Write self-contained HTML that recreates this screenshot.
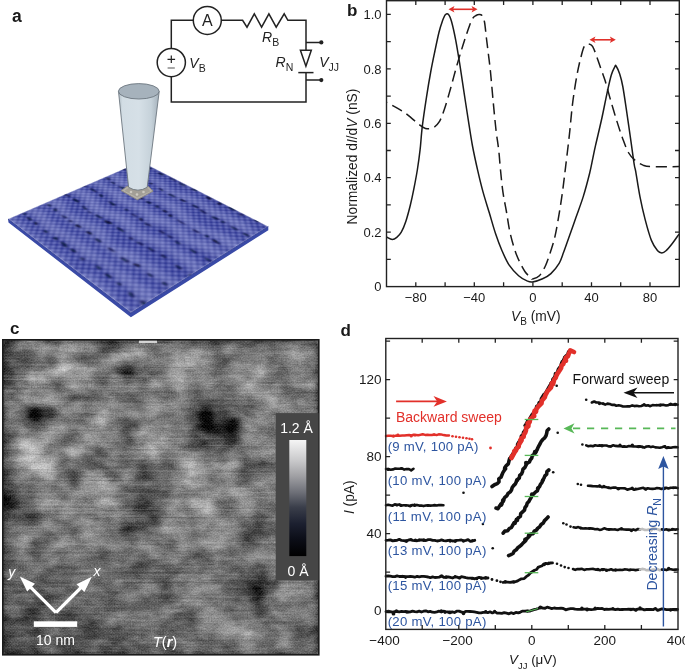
<!DOCTYPE html>
<html><head><meta charset="utf-8"><style>
html,body{margin:0;padding:0;background:#fff;}
#wrap{position:relative;width:685px;height:669px;overflow:hidden;background:#fff;font-family:"Liberation Sans",sans-serif;filter:blur(0.35px);}
svg text{font-family:"Liberation Sans",sans-serif;}
</style></head><body><div id="wrap">
<div style="position:absolute;left:0;top:0;width:200px;height:200px;transform-origin:0 0;transform:matrix3d(0.409881,0.133687,0,-0.00084465,-0.671122,0.119900,0,-0.00076530,0,0,1,0,141.0000,161.5000,0,1);"><svg width="200" height="200" viewBox="0 0 200 200"><defs><pattern id="lat" width="6.2" height="6.2" patternUnits="userSpaceOnUse" patternTransform="rotate(45)"><rect width="6.2" height="6.2" fill="#283090"/><circle cx="3.1" cy="3.1" r="2.23" fill="#7f87cf" opacity="0.85"/></pattern><filter id="bl1" x="-20%" y="-20%" width="140%" height="140%"><feTurbulence type="fractalNoise" baseFrequency="0.03" numOctaves="2" seed="3" result="t"/><feDisplacementMap in="SourceGraphic" in2="t" scale="22" xChannelSelector="R" yChannelSelector="G" result="d"/><feGaussianBlur in="d" stdDeviation="4"/></filter><filter id="bl2" x="-20%" y="-20%" width="140%" height="140%"><feTurbulence type="fractalNoise" baseFrequency="0.03" numOctaves="2" seed="3" result="t"/><feDisplacementMap in="SourceGraphic" in2="t" scale="7" xChannelSelector="R" yChannelSelector="G" result="d"/><feGaussianBlur in="d" stdDeviation="0.8"/></filter><filter id="bl0"><feGaussianBlur stdDeviation="0.8"/></filter></defs><rect width="200" height="200" fill="url(#lat)" filter="url(#bl0)"/><g filter="url(#bl1)"><rect x="-10" y="-16.6" width="220" height="13.5" fill="#c0c6f0" opacity="0.32"/><rect x="-10" y="-32.8" width="220" height="6" fill="#101650" opacity="0.1"/><rect x="-10" y="14.2" width="220" height="13.5" fill="#c0c6f0" opacity="0.32"/><rect x="-10" y="-2.6" width="220" height="6" fill="#101650" opacity="0.1"/><rect x="-10" y="45.8" width="220" height="13.5" fill="#c0c6f0" opacity="0.32"/><rect x="-10" y="25.3" width="220" height="6" fill="#101650" opacity="0.1"/><rect x="-10" y="72.1" width="220" height="13.5" fill="#c0c6f0" opacity="0.32"/><rect x="-10" y="58.3" width="220" height="6" fill="#101650" opacity="0.1"/><rect x="-10" y="103.6" width="220" height="13.5" fill="#c0c6f0" opacity="0.32"/><rect x="-10" y="85.9" width="220" height="6" fill="#101650" opacity="0.1"/><rect x="-10" y="138.0" width="220" height="13.5" fill="#c0c6f0" opacity="0.32"/><rect x="-10" y="116.9" width="220" height="6" fill="#101650" opacity="0.1"/><rect x="-10" y="167.0" width="220" height="13.5" fill="#c0c6f0" opacity="0.32"/><rect x="-10" y="146.9" width="220" height="6" fill="#101650" opacity="0.1"/><rect x="-10" y="195.8" width="220" height="13.5" fill="#c0c6f0" opacity="0.32"/><rect x="-10" y="175.6" width="220" height="6" fill="#101650" opacity="0.1"/><rect x="-10" y="225.8" width="220" height="13.5" fill="#c0c6f0" opacity="0.32"/><rect x="-10" y="208.5" width="220" height="6" fill="#101650" opacity="0.1"/></g><g filter="url(#bl2)"><ellipse cx="7.1" cy="1.2" rx="4.8" ry="1.7" fill="#070a36" opacity="0.84"/><ellipse cx="20.9" cy="2.8" rx="2.6" ry="1.5" fill="#070a36" opacity="0.89"/><ellipse cx="41.1" cy="2.9" rx="5.0" ry="1.5" fill="#070a36" opacity="0.92"/><ellipse cx="59.8" cy="2.9" rx="5.8" ry="1.3" fill="#070a36" opacity="0.65"/><ellipse cx="76.8" cy="2.0" rx="5.9" ry="1.6" fill="#070a36" opacity="0.72"/><ellipse cx="95.1" cy="1.8" rx="3.9" ry="1.6" fill="#070a36" opacity="0.83"/><ellipse cx="116.8" cy="3.0" rx="4.9" ry="1.8" fill="#070a36" opacity="1.00"/><ellipse cx="135.2" cy="2.8" rx="3.1" ry="1.9" fill="#070a36" opacity="0.96"/><ellipse cx="152.5" cy="1.5" rx="5.0" ry="1.8" fill="#070a36" opacity="0.83"/><ellipse cx="166.4" cy="2.8" rx="2.7" ry="1.9" fill="#070a36" opacity="0.64"/><ellipse cx="184.8" cy="1.4" rx="3.9" ry="1.4" fill="#070a36" opacity="0.91"/><ellipse cx="1.1" cy="30.6" rx="2.7" ry="1.4" fill="#070a36" opacity="0.95"/><ellipse cx="21.8" cy="31.2" rx="4.3" ry="1.4" fill="#070a36" opacity="0.63"/><ellipse cx="38.3" cy="29.6" rx="2.6" ry="1.5" fill="#070a36" opacity="0.84"/><ellipse cx="48.3" cy="30.9" rx="2.6" ry="1.4" fill="#070a36" opacity="0.98"/><ellipse cx="67.6" cy="30.1" rx="3.8" ry="1.6" fill="#070a36" opacity="0.86"/><ellipse cx="85.4" cy="30.4" rx="4.5" ry="1.9" fill="#070a36" opacity="0.80"/><ellipse cx="102.6" cy="29.7" rx="5.0" ry="1.4" fill="#070a36" opacity="0.99"/><ellipse cx="120.8" cy="29.2" rx="4.4" ry="1.5" fill="#070a36" opacity="0.83"/><ellipse cx="133.1" cy="30.4" rx="4.7" ry="1.2" fill="#070a36" opacity="0.85"/><ellipse cx="150.8" cy="29.9" rx="4.9" ry="1.7" fill="#070a36" opacity="0.90"/><ellipse cx="161.6" cy="30.5" rx="2.7" ry="1.9" fill="#070a36" opacity="0.70"/><ellipse cx="176.9" cy="29.8" rx="4.6" ry="1.5" fill="#070a36" opacity="0.73"/><ellipse cx="193.1" cy="29.8" rx="4.6" ry="1.5" fill="#070a36" opacity="0.91"/><ellipse cx="5.6" cy="61.7" rx="3.6" ry="1.8" fill="#070a36" opacity="0.70"/><ellipse cx="18.3" cy="62.7" rx="4.0" ry="1.3" fill="#070a36" opacity="0.73"/><ellipse cx="34.4" cy="62.2" rx="5.4" ry="1.8" fill="#070a36" opacity="0.67"/><ellipse cx="51.3" cy="63.0" rx="4.8" ry="1.5" fill="#070a36" opacity="0.69"/><ellipse cx="64.8" cy="61.7" rx="4.4" ry="1.8" fill="#070a36" opacity="0.94"/><ellipse cx="77.6" cy="62.9" rx="3.5" ry="1.6" fill="#070a36" opacity="0.92"/><ellipse cx="90.9" cy="61.9" rx="3.0" ry="1.8" fill="#070a36" opacity="0.71"/><ellipse cx="104.6" cy="62.1" rx="4.0" ry="1.5" fill="#070a36" opacity="0.97"/><ellipse cx="115.8" cy="63.2" rx="2.5" ry="1.8" fill="#070a36" opacity="0.99"/><ellipse cx="131.9" cy="63.1" rx="5.8" ry="1.4" fill="#070a36" opacity="0.90"/><ellipse cx="154.7" cy="62.3" rx="4.8" ry="1.4" fill="#070a36" opacity="0.74"/><ellipse cx="167.8" cy="62.5" rx="2.7" ry="1.4" fill="#070a36" opacity="0.92"/><ellipse cx="179.7" cy="62.7" rx="5.7" ry="1.8" fill="#070a36" opacity="0.96"/><ellipse cx="202.8" cy="61.3" rx="4.5" ry="1.7" fill="#070a36" opacity="0.67"/><ellipse cx="-0.3" cy="93.5" rx="3.9" ry="1.6" fill="#070a36" opacity="0.74"/><ellipse cx="14.9" cy="92.6" rx="5.5" ry="1.7" fill="#070a36" opacity="0.74"/><ellipse cx="30.0" cy="93.3" rx="4.4" ry="1.3" fill="#070a36" opacity="0.92"/><ellipse cx="52.8" cy="93.3" rx="5.3" ry="1.2" fill="#070a36" opacity="0.85"/><ellipse cx="73.3" cy="92.2" rx="2.7" ry="1.4" fill="#070a36" opacity="0.81"/><ellipse cx="87.8" cy="93.2" rx="4.2" ry="1.2" fill="#070a36" opacity="0.62"/><ellipse cx="99.3" cy="91.8" rx="2.9" ry="1.9" fill="#070a36" opacity="0.94"/><ellipse cx="110.4" cy="92.3" rx="4.3" ry="1.4" fill="#070a36" opacity="0.74"/><ellipse cx="129.3" cy="92.4" rx="4.6" ry="1.3" fill="#070a36" opacity="0.73"/><ellipse cx="142.7" cy="93.1" rx="4.4" ry="1.5" fill="#070a36" opacity="0.63"/><ellipse cx="155.9" cy="92.9" rx="3.8" ry="1.7" fill="#070a36" opacity="0.75"/><ellipse cx="176.2" cy="92.5" rx="4.7" ry="1.5" fill="#070a36" opacity="0.80"/><ellipse cx="195.6" cy="93.0" rx="4.0" ry="1.5" fill="#070a36" opacity="0.70"/><ellipse cx="-13.9" cy="122.6" rx="4.0" ry="1.8" fill="#070a36" opacity="0.97"/><ellipse cx="2.9" cy="123.4" rx="5.6" ry="1.4" fill="#070a36" opacity="0.79"/><ellipse cx="18.2" cy="123.1" rx="5.3" ry="1.8" fill="#070a36" opacity="0.92"/><ellipse cx="39.0" cy="122.9" rx="5.1" ry="1.3" fill="#070a36" opacity="0.84"/><ellipse cx="50.1" cy="123.3" rx="3.0" ry="1.2" fill="#070a36" opacity="0.64"/><ellipse cx="62.8" cy="122.1" rx="5.6" ry="1.2" fill="#070a36" opacity="0.94"/><ellipse cx="78.2" cy="123.1" rx="5.5" ry="1.8" fill="#070a36" opacity="0.98"/><ellipse cx="98.3" cy="121.9" rx="5.3" ry="1.7" fill="#070a36" opacity="0.80"/><ellipse cx="117.3" cy="123.3" rx="2.9" ry="1.9" fill="#070a36" opacity="0.62"/><ellipse cx="131.2" cy="123.4" rx="4.5" ry="1.4" fill="#070a36" opacity="0.67"/><ellipse cx="146.1" cy="123.3" rx="4.7" ry="1.5" fill="#070a36" opacity="0.75"/><ellipse cx="161.8" cy="122.6" rx="3.7" ry="1.3" fill="#070a36" opacity="0.80"/><ellipse cx="183.2" cy="123.3" rx="3.9" ry="1.3" fill="#070a36" opacity="0.88"/><ellipse cx="203.3" cy="122.8" rx="4.9" ry="1.5" fill="#070a36" opacity="0.86"/><ellipse cx="-12.0" cy="151.4" rx="5.1" ry="1.6" fill="#070a36" opacity="0.78"/><ellipse cx="7.2" cy="150.1" rx="3.2" ry="1.3" fill="#070a36" opacity="0.83"/><ellipse cx="20.1" cy="151.0" rx="3.3" ry="1.9" fill="#070a36" opacity="0.72"/><ellipse cx="38.1" cy="151.3" rx="3.9" ry="1.6" fill="#070a36" opacity="0.71"/><ellipse cx="50.0" cy="150.6" rx="2.6" ry="1.5" fill="#070a36" opacity="0.67"/><ellipse cx="63.2" cy="151.1" rx="3.6" ry="1.3" fill="#070a36" opacity="1.00"/><ellipse cx="79.7" cy="150.5" rx="4.6" ry="1.8" fill="#070a36" opacity="0.93"/><ellipse cx="97.6" cy="151.0" rx="4.2" ry="1.8" fill="#070a36" opacity="0.76"/><ellipse cx="118.7" cy="150.5" rx="5.9" ry="1.4" fill="#070a36" opacity="0.69"/><ellipse cx="140.4" cy="151.5" rx="4.9" ry="1.8" fill="#070a36" opacity="0.70"/><ellipse cx="153.7" cy="150.0" rx="3.4" ry="1.7" fill="#070a36" opacity="0.94"/><ellipse cx="173.4" cy="151.3" rx="3.4" ry="1.4" fill="#070a36" opacity="0.77"/><ellipse cx="190.6" cy="149.8" rx="2.8" ry="1.8" fill="#070a36" opacity="0.72"/><ellipse cx="2.8" cy="182.0" rx="2.5" ry="1.5" fill="#070a36" opacity="0.79"/><ellipse cx="15.2" cy="183.2" rx="4.5" ry="1.5" fill="#070a36" opacity="0.82"/><ellipse cx="27.5" cy="182.7" rx="3.5" ry="1.3" fill="#070a36" opacity="0.95"/><ellipse cx="46.8" cy="183.2" rx="2.8" ry="1.5" fill="#070a36" opacity="0.91"/><ellipse cx="64.5" cy="182.7" rx="3.5" ry="1.7" fill="#070a36" opacity="0.92"/><ellipse cx="79.1" cy="183.2" rx="5.1" ry="1.7" fill="#070a36" opacity="0.81"/><ellipse cx="92.7" cy="182.0" rx="4.2" ry="1.7" fill="#070a36" opacity="0.87"/><ellipse cx="109.3" cy="182.6" rx="3.1" ry="1.6" fill="#070a36" opacity="0.67"/><ellipse cx="130.0" cy="181.6" rx="4.8" ry="1.9" fill="#070a36" opacity="0.66"/><ellipse cx="146.5" cy="182.5" rx="5.0" ry="1.6" fill="#070a36" opacity="0.86"/><ellipse cx="163.1" cy="181.7" rx="3.6" ry="1.2" fill="#070a36" opacity="0.89"/><ellipse cx="182.4" cy="182.8" rx="4.4" ry="1.5" fill="#070a36" opacity="0.71"/><ellipse cx="199.6" cy="181.4" rx="5.6" ry="1.6" fill="#070a36" opacity="0.70"/></g></svg></div>
<svg width="685" height="669" viewBox="0 0 685 669" style="position:absolute;left:0;top:0" font-family="Liberation Sans, sans-serif" fill="#1a1a1a">
<path d="M8,219 L130.9,313 L268.3,226.5 L268.3,230.3 L130.9,317.3 L8.5,222.5Z" fill="#3a4aa6"/>
<path d="M8,219 L130.9,313 L268.3,226.5" fill="none" stroke="#2c3890" stroke-width="0.8"/>
<defs><linearGradient id="tipg" x1="0" x2="1" y1="0" y2="0"><stop offset="0" stop-color="#b4c0c8"/><stop offset="0.1" stop-color="#d2dde4"/><stop offset="0.5" stop-color="#d6e0e7"/><stop offset="0.8" stop-color="#c6d2da"/><stop offset="1" stop-color="#a4b0ba"/></linearGradient></defs>
<path d="M121.2,190.6 L127,186.4 L148.5,186.6 L153,191.2 L137.3,199.8 Z" fill="#b4b0a8" stroke="#8c8880" stroke-width="0.9"/>
<path d="M124.5,190.8 L128.5,188 L147.5,188 L150.3,191.2 L137.3,197.6 Z" fill="#a29e96"/>
<circle cx="131" cy="192" r="1.3" fill="#ccc8c0"/><circle cx="137" cy="194.5" r="1.3" fill="#d0ccc4"/><circle cx="143.5" cy="192" r="1.3" fill="#ccc8c0"/>
<path d="M118.5,91.5 L128.6,187.3 Q137.9,193 147.2,187.3 L159.2,91.5 Z" fill="url(#tipg)" stroke="#6d7780" stroke-width="0.9"/>
<ellipse cx="138.8" cy="91.3" rx="20.4" ry="7.7" fill="#a6b2bc" stroke="#6d7780" stroke-width="0.9"/>
<text x="12" y="22.2" font-size="17.5" font-weight="bold">a</text>
<path d="M171.3,48.5V20.3H193.3 M221.3,20.3H242.6 L247,27.2 L254.3,13.8 L261.6,27.2 L268.9,13.8 L276.2,27.2 L284.2,13.8 L287.9,20.3 H306 V50.3 M306,72.6 V102 H171.3 V76.7" stroke="#222" stroke-width="1.5" fill="none" stroke-linejoin="miter"/>
<circle cx="207.3" cy="20.4" r="14" stroke="#222" stroke-width="1.5" fill="none"/>
<text x="207.3" y="26.2" font-size="16" text-anchor="middle" fill="#222">A</text>
<circle cx="171.3" cy="62.6" r="14.1" stroke="#222" stroke-width="1.5" fill="none"/>
<path d="M167.5,59.3h7.6M171.3,55.5v7.6" stroke="#222" stroke-width="1.2"/>
<path d="M167.6,68h7.2" stroke="#6e6e6e" stroke-width="1.2"/>
<text x="189.3" y="68.2" font-size="14" fill="#222"><tspan font-style="italic">V</tspan><tspan font-size="10.5" dy="4">B</tspan></text>
<text x="262" y="41.6" font-size="14" fill="#222"><tspan font-style="italic">R</tspan><tspan font-size="10.5" dy="4">B</tspan></text>
<text x="275.6" y="67.4" font-size="14" fill="#222"><tspan font-style="italic">R</tspan><tspan font-size="10.5" dy="4">N</tspan></text>
<text x="319.2" y="66.9" font-size="14" fill="#222"><tspan font-style="italic">V</tspan><tspan font-size="10.5" dy="4.5">JJ</tspan></text>
<path d="M300.4,50.3H311.3L305.9,66.2Z" stroke="#222" stroke-width="1.5" fill="none" stroke-linejoin="miter"/>
<path d="M298.3,72.6H313.5" stroke="#222" stroke-width="1.5"/>
<path d="M306,42.4H320M306,80.1H320" stroke="#222" stroke-width="1.5"/>
<circle cx="321.3" cy="42.4" r="2.1" fill="#222"/><circle cx="321.3" cy="80.1" r="2.1" fill="#222"/>
<path d="M386.50,237.00 C387.47,237.40 390.58,239.35 392.30,239.40 C394.02,239.45 395.30,238.50 396.80,237.30 C398.30,236.10 399.80,234.83 401.30,232.20 C402.80,229.57 404.30,225.98 405.80,221.50 C407.30,217.02 408.97,210.68 410.30,205.30 C411.63,199.92 412.62,195.17 413.80,189.20 C414.98,183.23 416.35,176.08 417.40,169.50 C418.45,162.92 419.28,156.88 420.10,149.70 C420.92,142.52 421.23,135.17 422.30,126.40 C423.37,117.63 425.10,106.17 426.50,97.10 C427.90,88.03 429.30,79.68 430.70,72.00 C432.10,64.32 433.52,57.63 434.90,51.00 C436.28,44.37 437.78,37.08 439.00,32.20 C440.22,27.32 441.15,24.60 442.20,21.70 C443.25,18.80 444.25,16.02 445.30,14.80 C446.35,13.58 447.45,13.25 448.50,14.40 C449.55,15.55 450.38,17.33 451.60,21.70 C452.82,26.07 454.40,33.27 455.80,40.60 C457.20,47.93 458.62,56.98 460.00,65.70 C461.38,74.42 462.72,83.83 464.10,92.90 C465.48,101.97 466.90,111.25 468.30,120.10 C469.70,128.95 470.92,137.53 472.50,146.00 C474.08,154.47 476.05,163.25 477.80,170.90 C479.55,178.55 481.08,184.92 483.00,191.90 C484.92,198.88 487.20,205.82 489.30,212.80 C491.40,219.78 493.50,227.52 495.60,233.80 C497.70,240.08 499.63,245.27 501.90,250.50 C504.17,255.73 506.42,261.00 509.20,265.20 C511.98,269.40 515.63,273.08 518.60,275.70 C521.57,278.32 524.70,279.85 527.00,280.90 C529.30,281.95 529.80,282.35 532.40,282.00 C535.00,281.65 539.52,280.20 542.60,278.80 C545.68,277.40 548.12,276.22 550.90,273.60 C553.68,270.98 557.20,266.60 559.30,263.10 C561.40,259.60 561.93,256.78 563.50,252.60 C565.07,248.42 566.60,243.93 568.70,238.00 C570.80,232.07 573.65,223.98 576.10,217.00 C578.55,210.02 581.13,203.43 583.40,196.10 C585.67,188.77 588.13,179.28 589.70,173.00 C591.27,166.72 591.82,163.03 592.80,158.40 C593.78,153.77 594.08,151.93 595.60,145.20 C597.12,138.47 599.98,126.73 601.90,118.00 C603.82,109.27 605.53,99.97 607.10,92.80 C608.67,85.63 610.00,79.37 611.30,75.00 C612.60,70.63 614.10,68.10 614.90,66.60 C615.70,65.10 615.30,64.77 616.10,66.00 C616.90,67.23 618.58,70.58 619.70,74.00 C620.82,77.42 621.58,79.87 622.80,86.50 C624.02,93.13 625.60,104.37 627.00,113.80 C628.40,123.23 629.98,134.57 631.20,143.10 C632.42,151.63 633.55,160.28 634.30,165.00 C635.05,169.72 634.77,166.17 635.70,171.40 C636.63,176.63 638.33,188.40 639.90,196.40 C641.47,204.40 643.18,212.07 645.10,219.40 C647.02,226.73 649.32,235.17 651.40,240.40 C653.48,245.63 655.87,248.72 657.60,250.80 C659.33,252.88 660.40,252.90 661.80,252.90 C663.20,252.90 664.25,252.37 666.00,250.80 C667.75,249.23 670.13,246.28 672.30,243.50 C674.47,240.72 677.88,235.67 679.00,234.10" fill="none" stroke="#1a1a1a" stroke-width="1.5" stroke-linejoin="round"/>
<path d="M386.50,102.30 C387.43,102.80 389.55,103.88 392.10,105.30 C394.65,106.72 399.48,109.42 401.80,110.80 C404.12,112.18 403.88,111.97 406.00,113.60 C408.12,115.23 412.28,118.77 414.50,120.60 C416.72,122.43 417.47,123.28 419.30,124.60 C421.13,125.92 423.25,127.93 425.50,128.50 C427.75,129.07 430.55,129.05 432.80,128.00 C435.05,126.95 437.08,125.27 439.00,122.20 C440.92,119.13 442.38,115.18 444.30,109.60 C446.22,104.02 448.42,96.02 450.50,88.70 C452.58,81.38 454.70,73.02 456.80,65.70 C458.90,58.38 461.00,51.43 463.10,44.80 C465.20,38.17 467.75,30.37 469.40,25.90 C471.05,21.43 471.90,19.73 473.00,18.00 C474.10,16.27 475.00,16.08 476.00,15.50 C477.00,14.92 478.00,14.50 479.00,14.50 C480.00,14.50 481.08,14.25 482.00,15.50 C482.92,16.75 483.77,18.25 484.50,22.00 C485.23,25.75 485.73,32.50 486.40,38.00 C487.07,43.50 487.82,49.33 488.50,55.00 C489.18,60.67 489.70,64.03 490.50,72.00 C491.30,79.97 492.38,93.13 493.30,102.80 C494.22,112.47 495.10,122.13 496.00,130.00 C496.90,137.87 497.95,143.33 498.70,150.00 C499.45,156.67 499.80,163.02 500.50,170.00 C501.20,176.98 501.90,184.90 502.90,191.90 C503.90,198.90 505.27,205.02 506.50,212.00 C507.73,218.98 508.63,226.68 510.30,233.80 C511.97,240.92 514.07,248.42 516.50,254.70 C518.93,260.98 522.45,267.67 524.90,271.50 C527.35,275.33 529.98,276.45 531.20,277.70 C532.42,278.95 530.83,279.33 532.20,279.00 C533.57,278.67 537.15,278.00 539.40,275.70 C541.65,273.40 543.78,269.40 545.70,265.20 C547.62,261.00 549.33,255.38 550.90,250.50 C552.47,245.62 553.70,242.18 555.10,235.90 C556.50,229.62 558.07,220.13 559.30,212.80 C560.53,205.47 561.45,199.57 562.50,191.90 C563.55,184.23 564.45,176.33 565.60,166.80 C566.75,157.27 568.23,145.28 569.40,134.70 C570.57,124.12 571.37,113.07 572.60,103.30 C573.83,93.53 575.42,83.78 576.80,76.10 C578.18,68.42 579.52,62.37 580.90,57.20 C582.28,52.03 583.35,47.12 585.10,45.10 C586.85,43.08 589.82,44.13 591.40,45.10 C592.98,46.07 593.20,47.48 594.60,50.90 C596.00,54.32 598.07,60.70 599.80,65.60 C601.53,70.50 603.25,74.72 605.00,80.30 C606.75,85.88 608.38,92.48 610.30,99.10 C612.22,105.72 614.42,113.37 616.50,120.00 C618.58,126.63 620.82,133.48 622.80,138.90 C624.78,144.32 626.43,149.00 628.40,152.50 C630.37,156.00 632.17,157.80 634.60,159.90 C637.03,162.00 640.20,163.98 643.00,165.10 C645.80,166.22 645.40,166.35 651.40,166.60 C657.40,166.85 674.40,166.60 679.00,166.60" fill="none" stroke="#1a1a1a" stroke-width="1.5" stroke-dasharray="11 5.6" stroke-dashoffset="10"/>
<rect x="386.5" y="0.7" width="292.8" height="285.9" fill="none" stroke="#222" stroke-width="1.4"/>
<path d="M415.8,286.6v-4.3M415.8,0.7v4.3M445.1,286.6v-4.3M445.1,0.7v4.3M474.3,286.6v-4.3M474.3,0.7v4.3M503.6,286.6v-4.3M503.6,0.7v4.3M532.9,286.6v-4.3M532.9,0.7v4.3M562.2,286.6v-4.3M562.2,0.7v4.3M591.5,286.6v-4.3M591.5,0.7v4.3M620.7,286.6v-4.3M620.7,0.7v4.3M650.0,286.6v-4.3M650.0,0.7v4.3M386.5,259.4h4.3M679.3,259.4h-4.3M386.5,232.2h4.3M679.3,232.2h-4.3M386.5,204.9h4.3M679.3,204.9h-4.3M386.5,177.7h4.3M679.3,177.7h-4.3M386.5,150.5h4.3M679.3,150.5h-4.3M386.5,123.3h4.3M679.3,123.3h-4.3M386.5,96.1h4.3M679.3,96.1h-4.3M386.5,68.8h4.3M679.3,68.8h-4.3M386.5,41.6h4.3M679.3,41.6h-4.3M386.5,14.4h4.3M679.3,14.4h-4.3" stroke="#222" stroke-width="1.3" fill="none"/>
<text x="415.8" y="302.3" font-size="13" text-anchor="middle">−80</text>
<text x="474.3" y="302.3" font-size="13" text-anchor="middle">−40</text>
<text x="532.9" y="302.3" font-size="13" text-anchor="middle">0</text>
<text x="591.5" y="302.3" font-size="13" text-anchor="middle">40</text>
<text x="650.0" y="302.3" font-size="13" text-anchor="middle">80</text>
<text x="381.5" y="291.3" font-size="13" text-anchor="end">0</text>
<text x="381.5" y="236.9" font-size="13" text-anchor="end">0.2</text>
<text x="381.5" y="182.4" font-size="13" text-anchor="end">0.4</text>
<text x="381.5" y="128.0" font-size="13" text-anchor="end">0.6</text>
<text x="381.5" y="73.5" font-size="13" text-anchor="end">0.8</text>
<text x="381.5" y="19.1" font-size="13" text-anchor="end">1.0</text>
<text transform="translate(356.6,156.5) rotate(-90)" font-size="13.8" text-anchor="middle">Normalized d<tspan font-style="italic">I</tspan>/d<tspan font-style="italic">V</tspan> (nS)</text>
<text x="511" y="321.2" font-size="13.8"><tspan font-style="italic">V</tspan><tspan font-size="10" dy="4">B</tspan><tspan dy="-4"> (mV)</tspan></text>
<path d="M452.5,9.3H473.5" stroke="#e0302a" stroke-width="1.6"/><path d="M448.5,9.3l6,-3.3l-1.5,3.3l1.5,3.3z M477.5,9.3l-6,-3.3l1.5,3.3l-1.5,3.3z" fill="#e0302a"/>
<path d="M593.5,39.8H611.8" stroke="#e0302a" stroke-width="1.6"/><path d="M589.5,39.8l6,-3.3l-1.5,3.3l1.5,3.3z M615.8,39.8l-6,-3.3l1.5,3.3l-1.5,3.3z" fill="#e0302a"/>
<text x="347" y="16.4" font-size="17" font-weight="bold">b</text>
<text x="10" y="334.4" font-size="17" font-weight="bold">c</text>
<defs><clipPath id="stmclip"><rect x="3" y="340" width="315.5" height="314.5"/></clipPath><filter id="stmf" x="3" y="340" width="315.5" height="314.5" filterUnits="userSpaceOnUse" color-interpolation-filters="sRGB"><feGaussianBlur in="SourceGraphic" stdDeviation="4.2" result="base"/><feTurbulence type="fractalNoise" baseFrequency="0.05 0.08" numOctaves="3" seed="7" result="mid"/><feColorMatrix in="mid" type="matrix" values="1 0 0 0 0  1 0 0 0 0  1 0 0 0 0  0 0 0 0 1" result="midg"/><feTurbulence type="fractalNoise" baseFrequency="0.02 0.5" numOctaves="2" seed="5" result="fine"/><feColorMatrix in="fine" type="matrix" values="1 0 0 0 0  1 0 0 0 0  1 0 0 0 0  0 0 0 0 1" result="fineg"/><feComposite in="base" in2="midg" operator="arithmetic" k1="0" k2="1" k3="0.42" k4="-0.21" result="b2"/><feComposite in="b2" in2="fineg" operator="arithmetic" k1="0" k2="1" k3="0.16" k4="-0.08" result="b3"/><feTurbulence type="fractalNoise" baseFrequency="0.7" numOctaves="1" seed="11" result="grain"/><feColorMatrix in="grain" type="matrix" values="1 0 0 0 0  1 0 0 0 0  1 0 0 0 0  0 0 0 0 1" result="graing"/><feComposite in="b3" in2="graing" operator="arithmetic" k1="0" k2="1" k3="0.26" k4="-0.13"/></filter><pattern id="hatch" width="3" height="3" patternUnits="userSpaceOnUse"><path d="M0,3L3,0M0,0L3,3" stroke="#fff" stroke-width="0.6" opacity="0.5"/></pattern><linearGradient id="cbar" x1="0" x2="0" y1="0" y2="1"><stop offset="0" stop-color="#f5f5f5"/><stop offset="0.18" stop-color="#c8c8ca"/><stop offset="0.31" stop-color="#a0a0a4"/><stop offset="0.45" stop-color="#6e7078"/><stop offset="0.58" stop-color="#3a3e4a"/><stop offset="0.72" stop-color="#1c2030"/><stop offset="0.85" stop-color="#0c0e18"/><stop offset="1" stop-color="#000"/></linearGradient></defs>
<g clip-path="url(#stmclip)">
<g filter="url(#stmf)"><rect x="2.5" y="339.5" width="14.1" height="14.1" fill="rgb(69,69,69)"/><rect x="15.6" y="339.5" width="14.1" height="14.1" fill="rgb(141,141,141)"/><rect x="28.8" y="339.5" width="14.1" height="14.1" fill="rgb(161,161,161)"/><rect x="41.9" y="339.5" width="14.1" height="14.1" fill="rgb(141,141,141)"/><rect x="55.0" y="339.5" width="14.1" height="14.1" fill="rgb(151,151,151)"/><rect x="68.1" y="339.5" width="14.1" height="14.1" fill="rgb(161,161,161)"/><rect x="81.2" y="339.5" width="14.1" height="14.1" fill="rgb(141,141,141)"/><rect x="94.4" y="339.5" width="14.1" height="14.1" fill="rgb(79,79,79)"/><rect x="107.5" y="339.5" width="14.1" height="14.1" fill="rgb(69,69,69)"/><rect x="120.6" y="339.5" width="14.1" height="14.1" fill="rgb(100,100,100)"/><rect x="133.8" y="339.5" width="14.1" height="14.1" fill="rgb(161,161,161)"/><rect x="146.9" y="339.5" width="14.1" height="14.1" fill="rgb(120,120,120)"/><rect x="160.0" y="339.5" width="14.1" height="14.1" fill="rgb(100,100,100)"/><rect x="173.1" y="339.5" width="14.1" height="14.1" fill="rgb(120,120,120)"/><rect x="186.2" y="339.5" width="14.1" height="14.1" fill="rgb(141,141,141)"/><rect x="199.4" y="339.5" width="14.1" height="14.1" fill="rgb(130,130,130)"/><rect x="212.5" y="339.5" width="14.1" height="14.1" fill="rgb(100,100,100)"/><rect x="225.6" y="339.5" width="14.1" height="14.1" fill="rgb(110,110,110)"/><rect x="238.8" y="339.5" width="14.1" height="14.1" fill="rgb(100,100,100)"/><rect x="251.9" y="339.5" width="14.1" height="14.1" fill="rgb(120,120,120)"/><rect x="265.0" y="339.5" width="14.1" height="14.1" fill="rgb(120,120,120)"/><rect x="278.1" y="339.5" width="14.1" height="14.1" fill="rgb(110,110,110)"/><rect x="291.2" y="339.5" width="14.1" height="14.1" fill="rgb(130,130,130)"/><rect x="304.4" y="339.5" width="14.1" height="14.1" fill="rgb(120,120,120)"/><rect x="2.5" y="352.6" width="14.1" height="14.1" fill="rgb(59,59,59)"/><rect x="15.6" y="352.6" width="14.1" height="14.1" fill="rgb(79,79,79)"/><rect x="28.8" y="352.6" width="14.1" height="14.1" fill="rgb(100,100,100)"/><rect x="41.9" y="352.6" width="14.1" height="14.1" fill="rgb(69,69,69)"/><rect x="55.0" y="352.6" width="14.1" height="14.1" fill="rgb(130,130,130)"/><rect x="68.1" y="352.6" width="14.1" height="14.1" fill="rgb(100,100,100)"/><rect x="81.2" y="352.6" width="14.1" height="14.1" fill="rgb(120,120,120)"/><rect x="94.4" y="352.6" width="14.1" height="14.1" fill="rgb(120,120,120)"/><rect x="107.5" y="352.6" width="14.1" height="14.1" fill="rgb(151,151,151)"/><rect x="120.6" y="352.6" width="14.1" height="14.1" fill="rgb(141,141,141)"/><rect x="133.8" y="352.6" width="14.1" height="14.1" fill="rgb(120,120,120)"/><rect x="146.9" y="352.6" width="14.1" height="14.1" fill="rgb(141,141,141)"/><rect x="160.0" y="352.6" width="14.1" height="14.1" fill="rgb(110,110,110)"/><rect x="173.1" y="352.6" width="14.1" height="14.1" fill="rgb(171,171,171)"/><rect x="186.2" y="352.6" width="14.1" height="14.1" fill="rgb(161,161,161)"/><rect x="199.4" y="352.6" width="14.1" height="14.1" fill="rgb(141,141,141)"/><rect x="212.5" y="352.6" width="14.1" height="14.1" fill="rgb(79,79,79)"/><rect x="225.6" y="352.6" width="14.1" height="14.1" fill="rgb(120,120,120)"/><rect x="238.8" y="352.6" width="14.1" height="14.1" fill="rgb(130,130,130)"/><rect x="251.9" y="352.6" width="14.1" height="14.1" fill="rgb(110,110,110)"/><rect x="265.0" y="352.6" width="14.1" height="14.1" fill="rgb(100,100,100)"/><rect x="278.1" y="352.6" width="14.1" height="14.1" fill="rgb(120,120,120)"/><rect x="291.2" y="352.6" width="14.1" height="14.1" fill="rgb(141,141,141)"/><rect x="304.4" y="352.6" width="14.1" height="14.1" fill="rgb(130,130,130)"/><rect x="2.5" y="365.8" width="14.1" height="14.1" fill="rgb(79,79,79)"/><rect x="15.6" y="365.8" width="14.1" height="14.1" fill="rgb(100,100,100)"/><rect x="28.8" y="365.8" width="14.1" height="14.1" fill="rgb(141,141,141)"/><rect x="41.9" y="365.8" width="14.1" height="14.1" fill="rgb(171,171,171)"/><rect x="55.0" y="365.8" width="14.1" height="14.1" fill="rgb(182,182,182)"/><rect x="68.1" y="365.8" width="14.1" height="14.1" fill="rgb(161,161,161)"/><rect x="81.2" y="365.8" width="14.1" height="14.1" fill="rgb(120,120,120)"/><rect x="94.4" y="365.8" width="14.1" height="14.1" fill="rgb(100,100,100)"/><rect x="107.5" y="365.8" width="14.1" height="14.1" fill="rgb(100,100,100)"/><rect x="120.6" y="365.8" width="14.1" height="14.1" fill="rgb(38,38,38)"/><rect x="133.8" y="365.8" width="14.1" height="14.1" fill="rgb(100,100,100)"/><rect x="146.9" y="365.8" width="14.1" height="14.1" fill="rgb(79,79,79)"/><rect x="160.0" y="365.8" width="14.1" height="14.1" fill="rgb(100,100,100)"/><rect x="173.1" y="365.8" width="14.1" height="14.1" fill="rgb(151,151,151)"/><rect x="186.2" y="365.8" width="14.1" height="14.1" fill="rgb(130,130,130)"/><rect x="199.4" y="365.8" width="14.1" height="14.1" fill="rgb(130,130,130)"/><rect x="212.5" y="365.8" width="14.1" height="14.1" fill="rgb(100,100,100)"/><rect x="225.6" y="365.8" width="14.1" height="14.1" fill="rgb(141,141,141)"/><rect x="238.8" y="365.8" width="14.1" height="14.1" fill="rgb(130,130,130)"/><rect x="251.9" y="365.8" width="14.1" height="14.1" fill="rgb(182,182,182)"/><rect x="265.0" y="365.8" width="14.1" height="14.1" fill="rgb(110,110,110)"/><rect x="278.1" y="365.8" width="14.1" height="14.1" fill="rgb(79,79,79)"/><rect x="291.2" y="365.8" width="14.1" height="14.1" fill="rgb(120,120,120)"/><rect x="304.4" y="365.8" width="14.1" height="14.1" fill="rgb(130,130,130)"/><rect x="2.5" y="378.9" width="14.1" height="14.1" fill="rgb(89,89,89)"/><rect x="15.6" y="378.9" width="14.1" height="14.1" fill="rgb(120,120,120)"/><rect x="28.8" y="378.9" width="14.1" height="14.1" fill="rgb(130,130,130)"/><rect x="41.9" y="378.9" width="14.1" height="14.1" fill="rgb(110,110,110)"/><rect x="55.0" y="378.9" width="14.1" height="14.1" fill="rgb(69,69,69)"/><rect x="68.1" y="378.9" width="14.1" height="14.1" fill="rgb(151,151,151)"/><rect x="81.2" y="378.9" width="14.1" height="14.1" fill="rgb(141,141,141)"/><rect x="94.4" y="378.9" width="14.1" height="14.1" fill="rgb(110,110,110)"/><rect x="107.5" y="378.9" width="14.1" height="14.1" fill="rgb(130,130,130)"/><rect x="120.6" y="378.9" width="14.1" height="14.1" fill="rgb(130,130,130)"/><rect x="133.8" y="378.9" width="14.1" height="14.1" fill="rgb(110,110,110)"/><rect x="146.9" y="378.9" width="14.1" height="14.1" fill="rgb(151,151,151)"/><rect x="160.0" y="378.9" width="14.1" height="14.1" fill="rgb(130,130,130)"/><rect x="173.1" y="378.9" width="14.1" height="14.1" fill="rgb(161,161,161)"/><rect x="186.2" y="378.9" width="14.1" height="14.1" fill="rgb(120,120,120)"/><rect x="199.4" y="378.9" width="14.1" height="14.1" fill="rgb(110,110,110)"/><rect x="212.5" y="378.9" width="14.1" height="14.1" fill="rgb(110,110,110)"/><rect x="225.6" y="378.9" width="14.1" height="14.1" fill="rgb(120,120,120)"/><rect x="238.8" y="378.9" width="14.1" height="14.1" fill="rgb(151,151,151)"/><rect x="251.9" y="378.9" width="14.1" height="14.1" fill="rgb(141,141,141)"/><rect x="265.0" y="378.9" width="14.1" height="14.1" fill="rgb(110,110,110)"/><rect x="278.1" y="378.9" width="14.1" height="14.1" fill="rgb(120,120,120)"/><rect x="291.2" y="378.9" width="14.1" height="14.1" fill="rgb(130,130,130)"/><rect x="304.4" y="378.9" width="14.1" height="14.1" fill="rgb(141,141,141)"/><rect x="2.5" y="392.0" width="14.1" height="14.1" fill="rgb(100,100,100)"/><rect x="15.6" y="392.0" width="14.1" height="14.1" fill="rgb(130,130,130)"/><rect x="28.8" y="392.0" width="14.1" height="14.1" fill="rgb(151,151,151)"/><rect x="41.9" y="392.0" width="14.1" height="14.1" fill="rgb(182,182,182)"/><rect x="55.0" y="392.0" width="14.1" height="14.1" fill="rgb(130,130,130)"/><rect x="68.1" y="392.0" width="14.1" height="14.1" fill="rgb(89,89,89)"/><rect x="81.2" y="392.0" width="14.1" height="14.1" fill="rgb(79,79,79)"/><rect x="94.4" y="392.0" width="14.1" height="14.1" fill="rgb(100,100,100)"/><rect x="107.5" y="392.0" width="14.1" height="14.1" fill="rgb(89,89,89)"/><rect x="120.6" y="392.0" width="14.1" height="14.1" fill="rgb(110,110,110)"/><rect x="133.8" y="392.0" width="14.1" height="14.1" fill="rgb(100,100,100)"/><rect x="146.9" y="392.0" width="14.1" height="14.1" fill="rgb(120,120,120)"/><rect x="160.0" y="392.0" width="14.1" height="14.1" fill="rgb(120,120,120)"/><rect x="173.1" y="392.0" width="14.1" height="14.1" fill="rgb(141,141,141)"/><rect x="186.2" y="392.0" width="14.1" height="14.1" fill="rgb(100,100,100)"/><rect x="199.4" y="392.0" width="14.1" height="14.1" fill="rgb(79,79,79)"/><rect x="212.5" y="392.0" width="14.1" height="14.1" fill="rgb(89,89,89)"/><rect x="225.6" y="392.0" width="14.1" height="14.1" fill="rgb(100,100,100)"/><rect x="238.8" y="392.0" width="14.1" height="14.1" fill="rgb(120,120,120)"/><rect x="251.9" y="392.0" width="14.1" height="14.1" fill="rgb(130,130,130)"/><rect x="265.0" y="392.0" width="14.1" height="14.1" fill="rgb(141,141,141)"/><rect x="278.1" y="392.0" width="14.1" height="14.1" fill="rgb(130,130,130)"/><rect x="291.2" y="392.0" width="14.1" height="14.1" fill="rgb(120,120,120)"/><rect x="304.4" y="392.0" width="14.1" height="14.1" fill="rgb(130,130,130)"/><rect x="2.5" y="405.1" width="14.1" height="14.1" fill="rgb(120,120,120)"/><rect x="15.6" y="405.1" width="14.1" height="14.1" fill="rgb(100,100,100)"/><rect x="28.8" y="405.1" width="14.1" height="14.1" fill="rgb(0,0,0)"/><rect x="41.9" y="405.1" width="14.1" height="14.1" fill="rgb(38,38,38)"/><rect x="55.0" y="405.1" width="14.1" height="14.1" fill="rgb(120,120,120)"/><rect x="68.1" y="405.1" width="14.1" height="14.1" fill="rgb(130,130,130)"/><rect x="81.2" y="405.1" width="14.1" height="14.1" fill="rgb(110,110,110)"/><rect x="94.4" y="405.1" width="14.1" height="14.1" fill="rgb(151,151,151)"/><rect x="107.5" y="405.1" width="14.1" height="14.1" fill="rgb(130,130,130)"/><rect x="120.6" y="405.1" width="14.1" height="14.1" fill="rgb(141,141,141)"/><rect x="133.8" y="405.1" width="14.1" height="14.1" fill="rgb(130,130,130)"/><rect x="146.9" y="405.1" width="14.1" height="14.1" fill="rgb(141,141,141)"/><rect x="160.0" y="405.1" width="14.1" height="14.1" fill="rgb(120,120,120)"/><rect x="173.1" y="405.1" width="14.1" height="14.1" fill="rgb(130,130,130)"/><rect x="186.2" y="405.1" width="14.1" height="14.1" fill="rgb(69,69,69)"/><rect x="199.4" y="405.1" width="14.1" height="14.1" fill="rgb(0,0,0)"/><rect x="212.5" y="405.1" width="14.1" height="14.1" fill="rgb(69,69,69)"/><rect x="225.6" y="405.1" width="14.1" height="14.1" fill="rgb(89,89,89)"/><rect x="238.8" y="405.1" width="14.1" height="14.1" fill="rgb(120,120,120)"/><rect x="251.9" y="405.1" width="14.1" height="14.1" fill="rgb(130,130,130)"/><rect x="265.0" y="405.1" width="14.1" height="14.1" fill="rgb(120,120,120)"/><rect x="278.1" y="405.1" width="14.1" height="14.1" fill="rgb(120,120,120)"/><rect x="291.2" y="405.1" width="14.1" height="14.1" fill="rgb(120,120,120)"/><rect x="304.4" y="405.1" width="14.1" height="14.1" fill="rgb(120,120,120)"/><rect x="2.5" y="418.2" width="14.1" height="14.1" fill="rgb(110,110,110)"/><rect x="15.6" y="418.2" width="14.1" height="14.1" fill="rgb(120,120,120)"/><rect x="28.8" y="418.2" width="14.1" height="14.1" fill="rgb(69,69,69)"/><rect x="41.9" y="418.2" width="14.1" height="14.1" fill="rgb(100,100,100)"/><rect x="55.0" y="418.2" width="14.1" height="14.1" fill="rgb(141,141,141)"/><rect x="68.1" y="418.2" width="14.1" height="14.1" fill="rgb(110,110,110)"/><rect x="81.2" y="418.2" width="14.1" height="14.1" fill="rgb(141,141,141)"/><rect x="94.4" y="418.2" width="14.1" height="14.1" fill="rgb(161,161,161)"/><rect x="107.5" y="418.2" width="14.1" height="14.1" fill="rgb(120,120,120)"/><rect x="120.6" y="418.2" width="14.1" height="14.1" fill="rgb(48,48,48)"/><rect x="133.8" y="418.2" width="14.1" height="14.1" fill="rgb(100,100,100)"/><rect x="146.9" y="418.2" width="14.1" height="14.1" fill="rgb(130,130,130)"/><rect x="160.0" y="418.2" width="14.1" height="14.1" fill="rgb(130,130,130)"/><rect x="173.1" y="418.2" width="14.1" height="14.1" fill="rgb(120,120,120)"/><rect x="186.2" y="418.2" width="14.1" height="14.1" fill="rgb(59,59,59)"/><rect x="199.4" y="418.2" width="14.1" height="14.1" fill="rgb(0,0,0)"/><rect x="212.5" y="418.2" width="14.1" height="14.1" fill="rgb(38,38,38)"/><rect x="225.6" y="418.2" width="14.1" height="14.1" fill="rgb(0,0,0)"/><rect x="238.8" y="418.2" width="14.1" height="14.1" fill="rgb(110,110,110)"/><rect x="251.9" y="418.2" width="14.1" height="14.1" fill="rgb(130,130,130)"/><rect x="265.0" y="418.2" width="14.1" height="14.1" fill="rgb(120,120,120)"/><rect x="278.1" y="418.2" width="14.1" height="14.1" fill="rgb(120,120,120)"/><rect x="291.2" y="418.2" width="14.1" height="14.1" fill="rgb(120,120,120)"/><rect x="304.4" y="418.2" width="14.1" height="14.1" fill="rgb(120,120,120)"/><rect x="2.5" y="431.4" width="14.1" height="14.1" fill="rgb(89,89,89)"/><rect x="15.6" y="431.4" width="14.1" height="14.1" fill="rgb(141,141,141)"/><rect x="28.8" y="431.4" width="14.1" height="14.1" fill="rgb(151,151,151)"/><rect x="41.9" y="431.4" width="14.1" height="14.1" fill="rgb(130,130,130)"/><rect x="55.0" y="431.4" width="14.1" height="14.1" fill="rgb(120,120,120)"/><rect x="68.1" y="431.4" width="14.1" height="14.1" fill="rgb(110,110,110)"/><rect x="81.2" y="431.4" width="14.1" height="14.1" fill="rgb(130,130,130)"/><rect x="94.4" y="431.4" width="14.1" height="14.1" fill="rgb(141,141,141)"/><rect x="107.5" y="431.4" width="14.1" height="14.1" fill="rgb(120,120,120)"/><rect x="120.6" y="431.4" width="14.1" height="14.1" fill="rgb(100,100,100)"/><rect x="133.8" y="431.4" width="14.1" height="14.1" fill="rgb(141,141,141)"/><rect x="146.9" y="431.4" width="14.1" height="14.1" fill="rgb(151,151,151)"/><rect x="160.0" y="431.4" width="14.1" height="14.1" fill="rgb(130,130,130)"/><rect x="173.1" y="431.4" width="14.1" height="14.1" fill="rgb(120,120,120)"/><rect x="186.2" y="431.4" width="14.1" height="14.1" fill="rgb(89,89,89)"/><rect x="199.4" y="431.4" width="14.1" height="14.1" fill="rgb(69,69,69)"/><rect x="212.5" y="431.4" width="14.1" height="14.1" fill="rgb(69,69,69)"/><rect x="225.6" y="431.4" width="14.1" height="14.1" fill="rgb(28,28,28)"/><rect x="238.8" y="431.4" width="14.1" height="14.1" fill="rgb(120,120,120)"/><rect x="251.9" y="431.4" width="14.1" height="14.1" fill="rgb(130,130,130)"/><rect x="265.0" y="431.4" width="14.1" height="14.1" fill="rgb(120,120,120)"/><rect x="278.1" y="431.4" width="14.1" height="14.1" fill="rgb(120,120,120)"/><rect x="291.2" y="431.4" width="14.1" height="14.1" fill="rgb(120,120,120)"/><rect x="304.4" y="431.4" width="14.1" height="14.1" fill="rgb(120,120,120)"/><rect x="2.5" y="444.5" width="14.1" height="14.1" fill="rgb(100,100,100)"/><rect x="15.6" y="444.5" width="14.1" height="14.1" fill="rgb(165,165,165)"/><rect x="28.8" y="444.5" width="14.1" height="14.1" fill="rgb(182,182,182)"/><rect x="41.9" y="444.5" width="14.1" height="14.1" fill="rgb(141,141,141)"/><rect x="55.0" y="444.5" width="14.1" height="14.1" fill="rgb(120,120,120)"/><rect x="68.1" y="444.5" width="14.1" height="14.1" fill="rgb(171,171,171)"/><rect x="81.2" y="444.5" width="14.1" height="14.1" fill="rgb(141,141,141)"/><rect x="94.4" y="444.5" width="14.1" height="14.1" fill="rgb(69,69,69)"/><rect x="107.5" y="444.5" width="14.1" height="14.1" fill="rgb(130,130,130)"/><rect x="120.6" y="444.5" width="14.1" height="14.1" fill="rgb(110,110,110)"/><rect x="133.8" y="444.5" width="14.1" height="14.1" fill="rgb(141,141,141)"/><rect x="146.9" y="444.5" width="14.1" height="14.1" fill="rgb(151,151,151)"/><rect x="160.0" y="444.5" width="14.1" height="14.1" fill="rgb(130,130,130)"/><rect x="173.1" y="444.5" width="14.1" height="14.1" fill="rgb(130,130,130)"/><rect x="186.2" y="444.5" width="14.1" height="14.1" fill="rgb(110,110,110)"/><rect x="199.4" y="444.5" width="14.1" height="14.1" fill="rgb(69,69,69)"/><rect x="212.5" y="444.5" width="14.1" height="14.1" fill="rgb(89,89,89)"/><rect x="225.6" y="444.5" width="14.1" height="14.1" fill="rgb(110,110,110)"/><rect x="238.8" y="444.5" width="14.1" height="14.1" fill="rgb(100,100,100)"/><rect x="251.9" y="444.5" width="14.1" height="14.1" fill="rgb(120,120,120)"/><rect x="265.0" y="444.5" width="14.1" height="14.1" fill="rgb(130,130,130)"/><rect x="278.1" y="444.5" width="14.1" height="14.1" fill="rgb(120,120,120)"/><rect x="291.2" y="444.5" width="14.1" height="14.1" fill="rgb(120,120,120)"/><rect x="304.4" y="444.5" width="14.1" height="14.1" fill="rgb(120,120,120)"/><rect x="2.5" y="457.6" width="14.1" height="14.1" fill="rgb(100,100,100)"/><rect x="15.6" y="457.6" width="14.1" height="14.1" fill="rgb(173,173,173)"/><rect x="28.8" y="457.6" width="14.1" height="14.1" fill="rgb(186,186,186)"/><rect x="41.9" y="457.6" width="14.1" height="14.1" fill="rgb(161,161,161)"/><rect x="55.0" y="457.6" width="14.1" height="14.1" fill="rgb(110,110,110)"/><rect x="68.1" y="457.6" width="14.1" height="14.1" fill="rgb(100,100,100)"/><rect x="81.2" y="457.6" width="14.1" height="14.1" fill="rgb(79,79,79)"/><rect x="94.4" y="457.6" width="14.1" height="14.1" fill="rgb(100,100,100)"/><rect x="107.5" y="457.6" width="14.1" height="14.1" fill="rgb(110,110,110)"/><rect x="120.6" y="457.6" width="14.1" height="14.1" fill="rgb(89,89,89)"/><rect x="133.8" y="457.6" width="14.1" height="14.1" fill="rgb(79,79,79)"/><rect x="146.9" y="457.6" width="14.1" height="14.1" fill="rgb(120,120,120)"/><rect x="160.0" y="457.6" width="14.1" height="14.1" fill="rgb(100,100,100)"/><rect x="173.1" y="457.6" width="14.1" height="14.1" fill="rgb(130,130,130)"/><rect x="186.2" y="457.6" width="14.1" height="14.1" fill="rgb(161,161,161)"/><rect x="199.4" y="457.6" width="14.1" height="14.1" fill="rgb(141,141,141)"/><rect x="212.5" y="457.6" width="14.1" height="14.1" fill="rgb(120,120,120)"/><rect x="225.6" y="457.6" width="14.1" height="14.1" fill="rgb(151,151,151)"/><rect x="238.8" y="457.6" width="14.1" height="14.1" fill="rgb(100,100,100)"/><rect x="251.9" y="457.6" width="14.1" height="14.1" fill="rgb(69,69,69)"/><rect x="265.0" y="457.6" width="14.1" height="14.1" fill="rgb(120,120,120)"/><rect x="278.1" y="457.6" width="14.1" height="14.1" fill="rgb(120,120,120)"/><rect x="291.2" y="457.6" width="14.1" height="14.1" fill="rgb(120,120,120)"/><rect x="304.4" y="457.6" width="14.1" height="14.1" fill="rgb(120,120,120)"/><rect x="2.5" y="470.8" width="14.1" height="14.1" fill="rgb(79,79,79)"/><rect x="15.6" y="470.8" width="14.1" height="14.1" fill="rgb(120,120,120)"/><rect x="28.8" y="470.8" width="14.1" height="14.1" fill="rgb(141,141,141)"/><rect x="41.9" y="470.8" width="14.1" height="14.1" fill="rgb(182,182,182)"/><rect x="55.0" y="470.8" width="14.1" height="14.1" fill="rgb(100,100,100)"/><rect x="68.1" y="470.8" width="14.1" height="14.1" fill="rgb(69,69,69)"/><rect x="81.2" y="470.8" width="14.1" height="14.1" fill="rgb(130,130,130)"/><rect x="94.4" y="470.8" width="14.1" height="14.1" fill="rgb(151,151,151)"/><rect x="107.5" y="470.8" width="14.1" height="14.1" fill="rgb(100,100,100)"/><rect x="120.6" y="470.8" width="14.1" height="14.1" fill="rgb(110,110,110)"/><rect x="133.8" y="470.8" width="14.1" height="14.1" fill="rgb(69,69,69)"/><rect x="146.9" y="470.8" width="14.1" height="14.1" fill="rgb(100,100,100)"/><rect x="160.0" y="470.8" width="14.1" height="14.1" fill="rgb(89,89,89)"/><rect x="173.1" y="470.8" width="14.1" height="14.1" fill="rgb(120,120,120)"/><rect x="186.2" y="470.8" width="14.1" height="14.1" fill="rgb(151,151,151)"/><rect x="199.4" y="470.8" width="14.1" height="14.1" fill="rgb(141,141,141)"/><rect x="212.5" y="470.8" width="14.1" height="14.1" fill="rgb(130,130,130)"/><rect x="225.6" y="470.8" width="14.1" height="14.1" fill="rgb(120,120,120)"/><rect x="238.8" y="470.8" width="14.1" height="14.1" fill="rgb(59,59,59)"/><rect x="251.9" y="470.8" width="14.1" height="14.1" fill="rgb(120,120,120)"/><rect x="265.0" y="470.8" width="14.1" height="14.1" fill="rgb(141,141,141)"/><rect x="278.1" y="470.8" width="14.1" height="14.1" fill="rgb(120,120,120)"/><rect x="291.2" y="470.8" width="14.1" height="14.1" fill="rgb(120,120,120)"/><rect x="304.4" y="470.8" width="14.1" height="14.1" fill="rgb(120,120,120)"/><rect x="2.5" y="483.9" width="14.1" height="14.1" fill="rgb(38,38,38)"/><rect x="15.6" y="483.9" width="14.1" height="14.1" fill="rgb(100,100,100)"/><rect x="28.8" y="483.9" width="14.1" height="14.1" fill="rgb(110,110,110)"/><rect x="41.9" y="483.9" width="14.1" height="14.1" fill="rgb(120,120,120)"/><rect x="55.0" y="483.9" width="14.1" height="14.1" fill="rgb(120,120,120)"/><rect x="68.1" y="483.9" width="14.1" height="14.1" fill="rgb(120,120,120)"/><rect x="81.2" y="483.9" width="14.1" height="14.1" fill="rgb(141,141,141)"/><rect x="94.4" y="483.9" width="14.1" height="14.1" fill="rgb(161,161,161)"/><rect x="107.5" y="483.9" width="14.1" height="14.1" fill="rgb(120,120,120)"/><rect x="120.6" y="483.9" width="14.1" height="14.1" fill="rgb(120,120,120)"/><rect x="133.8" y="483.9" width="14.1" height="14.1" fill="rgb(89,89,89)"/><rect x="146.9" y="483.9" width="14.1" height="14.1" fill="rgb(79,79,79)"/><rect x="160.0" y="483.9" width="14.1" height="14.1" fill="rgb(110,110,110)"/><rect x="173.1" y="483.9" width="14.1" height="14.1" fill="rgb(141,141,141)"/><rect x="186.2" y="483.9" width="14.1" height="14.1" fill="rgb(130,130,130)"/><rect x="199.4" y="483.9" width="14.1" height="14.1" fill="rgb(151,151,151)"/><rect x="212.5" y="483.9" width="14.1" height="14.1" fill="rgb(130,130,130)"/><rect x="225.6" y="483.9" width="14.1" height="14.1" fill="rgb(151,151,151)"/><rect x="238.8" y="483.9" width="14.1" height="14.1" fill="rgb(130,130,130)"/><rect x="251.9" y="483.9" width="14.1" height="14.1" fill="rgb(141,141,141)"/><rect x="265.0" y="483.9" width="14.1" height="14.1" fill="rgb(130,130,130)"/><rect x="278.1" y="483.9" width="14.1" height="14.1" fill="rgb(120,120,120)"/><rect x="291.2" y="483.9" width="14.1" height="14.1" fill="rgb(120,120,120)"/><rect x="304.4" y="483.9" width="14.1" height="14.1" fill="rgb(120,120,120)"/><rect x="2.5" y="497.0" width="14.1" height="14.1" fill="rgb(7,7,7)"/><rect x="15.6" y="497.0" width="14.1" height="14.1" fill="rgb(79,79,79)"/><rect x="28.8" y="497.0" width="14.1" height="14.1" fill="rgb(130,130,130)"/><rect x="41.9" y="497.0" width="14.1" height="14.1" fill="rgb(141,141,141)"/><rect x="55.0" y="497.0" width="14.1" height="14.1" fill="rgb(130,130,130)"/><rect x="68.1" y="497.0" width="14.1" height="14.1" fill="rgb(130,130,130)"/><rect x="81.2" y="497.0" width="14.1" height="14.1" fill="rgb(120,120,120)"/><rect x="94.4" y="497.0" width="14.1" height="14.1" fill="rgb(141,141,141)"/><rect x="107.5" y="497.0" width="14.1" height="14.1" fill="rgb(141,141,141)"/><rect x="120.6" y="497.0" width="14.1" height="14.1" fill="rgb(100,100,100)"/><rect x="133.8" y="497.0" width="14.1" height="14.1" fill="rgb(59,59,59)"/><rect x="146.9" y="497.0" width="14.1" height="14.1" fill="rgb(79,79,79)"/><rect x="160.0" y="497.0" width="14.1" height="14.1" fill="rgb(120,120,120)"/><rect x="173.1" y="497.0" width="14.1" height="14.1" fill="rgb(130,130,130)"/><rect x="186.2" y="497.0" width="14.1" height="14.1" fill="rgb(151,151,151)"/><rect x="199.4" y="497.0" width="14.1" height="14.1" fill="rgb(161,161,161)"/><rect x="212.5" y="497.0" width="14.1" height="14.1" fill="rgb(100,100,100)"/><rect x="225.6" y="497.0" width="14.1" height="14.1" fill="rgb(120,120,120)"/><rect x="238.8" y="497.0" width="14.1" height="14.1" fill="rgb(141,141,141)"/><rect x="251.9" y="497.0" width="14.1" height="14.1" fill="rgb(110,110,110)"/><rect x="265.0" y="497.0" width="14.1" height="14.1" fill="rgb(120,120,120)"/><rect x="278.1" y="497.0" width="14.1" height="14.1" fill="rgb(120,120,120)"/><rect x="291.2" y="497.0" width="14.1" height="14.1" fill="rgb(120,120,120)"/><rect x="304.4" y="497.0" width="14.1" height="14.1" fill="rgb(120,120,120)"/><rect x="2.5" y="510.1" width="14.1" height="14.1" fill="rgb(79,79,79)"/><rect x="15.6" y="510.1" width="14.1" height="14.1" fill="rgb(100,100,100)"/><rect x="28.8" y="510.1" width="14.1" height="14.1" fill="rgb(69,69,69)"/><rect x="41.9" y="510.1" width="14.1" height="14.1" fill="rgb(110,110,110)"/><rect x="55.0" y="510.1" width="14.1" height="14.1" fill="rgb(120,120,120)"/><rect x="68.1" y="510.1" width="14.1" height="14.1" fill="rgb(120,120,120)"/><rect x="81.2" y="510.1" width="14.1" height="14.1" fill="rgb(120,120,120)"/><rect x="94.4" y="510.1" width="14.1" height="14.1" fill="rgb(130,130,130)"/><rect x="107.5" y="510.1" width="14.1" height="14.1" fill="rgb(151,151,151)"/><rect x="120.6" y="510.1" width="14.1" height="14.1" fill="rgb(110,110,110)"/><rect x="133.8" y="510.1" width="14.1" height="14.1" fill="rgb(69,69,69)"/><rect x="146.9" y="510.1" width="14.1" height="14.1" fill="rgb(59,59,59)"/><rect x="160.0" y="510.1" width="14.1" height="14.1" fill="rgb(100,100,100)"/><rect x="173.1" y="510.1" width="14.1" height="14.1" fill="rgb(130,130,130)"/><rect x="186.2" y="510.1" width="14.1" height="14.1" fill="rgb(141,141,141)"/><rect x="199.4" y="510.1" width="14.1" height="14.1" fill="rgb(151,151,151)"/><rect x="212.5" y="510.1" width="14.1" height="14.1" fill="rgb(120,120,120)"/><rect x="225.6" y="510.1" width="14.1" height="14.1" fill="rgb(141,141,141)"/><rect x="238.8" y="510.1" width="14.1" height="14.1" fill="rgb(130,130,130)"/><rect x="251.9" y="510.1" width="14.1" height="14.1" fill="rgb(79,79,79)"/><rect x="265.0" y="510.1" width="14.1" height="14.1" fill="rgb(100,100,100)"/><rect x="278.1" y="510.1" width="14.1" height="14.1" fill="rgb(120,120,120)"/><rect x="291.2" y="510.1" width="14.1" height="14.1" fill="rgb(120,120,120)"/><rect x="304.4" y="510.1" width="14.1" height="14.1" fill="rgb(120,120,120)"/><rect x="2.5" y="523.2" width="14.1" height="14.1" fill="rgb(120,120,120)"/><rect x="15.6" y="523.2" width="14.1" height="14.1" fill="rgb(110,110,110)"/><rect x="28.8" y="523.2" width="14.1" height="14.1" fill="rgb(130,130,130)"/><rect x="41.9" y="523.2" width="14.1" height="14.1" fill="rgb(120,120,120)"/><rect x="55.0" y="523.2" width="14.1" height="14.1" fill="rgb(110,110,110)"/><rect x="68.1" y="523.2" width="14.1" height="14.1" fill="rgb(130,130,130)"/><rect x="81.2" y="523.2" width="14.1" height="14.1" fill="rgb(141,141,141)"/><rect x="94.4" y="523.2" width="14.1" height="14.1" fill="rgb(130,130,130)"/><rect x="107.5" y="523.2" width="14.1" height="14.1" fill="rgb(110,110,110)"/><rect x="120.6" y="523.2" width="14.1" height="14.1" fill="rgb(28,28,28)"/><rect x="133.8" y="523.2" width="14.1" height="14.1" fill="rgb(69,69,69)"/><rect x="146.9" y="523.2" width="14.1" height="14.1" fill="rgb(100,100,100)"/><rect x="160.0" y="523.2" width="14.1" height="14.1" fill="rgb(120,120,120)"/><rect x="173.1" y="523.2" width="14.1" height="14.1" fill="rgb(130,130,130)"/><rect x="186.2" y="523.2" width="14.1" height="14.1" fill="rgb(120,120,120)"/><rect x="199.4" y="523.2" width="14.1" height="14.1" fill="rgb(130,130,130)"/><rect x="212.5" y="523.2" width="14.1" height="14.1" fill="rgb(161,161,161)"/><rect x="225.6" y="523.2" width="14.1" height="14.1" fill="rgb(120,120,120)"/><rect x="238.8" y="523.2" width="14.1" height="14.1" fill="rgb(69,69,69)"/><rect x="251.9" y="523.2" width="14.1" height="14.1" fill="rgb(48,48,48)"/><rect x="265.0" y="523.2" width="14.1" height="14.1" fill="rgb(89,89,89)"/><rect x="278.1" y="523.2" width="14.1" height="14.1" fill="rgb(120,120,120)"/><rect x="291.2" y="523.2" width="14.1" height="14.1" fill="rgb(120,120,120)"/><rect x="304.4" y="523.2" width="14.1" height="14.1" fill="rgb(120,120,120)"/><rect x="2.5" y="536.4" width="14.1" height="14.1" fill="rgb(120,120,120)"/><rect x="15.6" y="536.4" width="14.1" height="14.1" fill="rgb(141,141,141)"/><rect x="28.8" y="536.4" width="14.1" height="14.1" fill="rgb(79,79,79)"/><rect x="41.9" y="536.4" width="14.1" height="14.1" fill="rgb(100,100,100)"/><rect x="55.0" y="536.4" width="14.1" height="14.1" fill="rgb(130,130,130)"/><rect x="68.1" y="536.4" width="14.1" height="14.1" fill="rgb(120,120,120)"/><rect x="81.2" y="536.4" width="14.1" height="14.1" fill="rgb(110,110,110)"/><rect x="94.4" y="536.4" width="14.1" height="14.1" fill="rgb(120,120,120)"/><rect x="107.5" y="536.4" width="14.1" height="14.1" fill="rgb(120,120,120)"/><rect x="120.6" y="536.4" width="14.1" height="14.1" fill="rgb(120,120,120)"/><rect x="133.8" y="536.4" width="14.1" height="14.1" fill="rgb(141,141,141)"/><rect x="146.9" y="536.4" width="14.1" height="14.1" fill="rgb(120,120,120)"/><rect x="160.0" y="536.4" width="14.1" height="14.1" fill="rgb(130,130,130)"/><rect x="173.1" y="536.4" width="14.1" height="14.1" fill="rgb(141,141,141)"/><rect x="186.2" y="536.4" width="14.1" height="14.1" fill="rgb(110,110,110)"/><rect x="199.4" y="536.4" width="14.1" height="14.1" fill="rgb(120,120,120)"/><rect x="212.5" y="536.4" width="14.1" height="14.1" fill="rgb(141,141,141)"/><rect x="225.6" y="536.4" width="14.1" height="14.1" fill="rgb(100,100,100)"/><rect x="238.8" y="536.4" width="14.1" height="14.1" fill="rgb(89,89,89)"/><rect x="251.9" y="536.4" width="14.1" height="14.1" fill="rgb(110,110,110)"/><rect x="265.0" y="536.4" width="14.1" height="14.1" fill="rgb(120,120,120)"/><rect x="278.1" y="536.4" width="14.1" height="14.1" fill="rgb(120,120,120)"/><rect x="291.2" y="536.4" width="14.1" height="14.1" fill="rgb(120,120,120)"/><rect x="304.4" y="536.4" width="14.1" height="14.1" fill="rgb(120,120,120)"/><rect x="2.5" y="549.5" width="14.1" height="14.1" fill="rgb(100,100,100)"/><rect x="15.6" y="549.5" width="14.1" height="14.1" fill="rgb(110,110,110)"/><rect x="28.8" y="549.5" width="14.1" height="14.1" fill="rgb(100,100,100)"/><rect x="41.9" y="549.5" width="14.1" height="14.1" fill="rgb(130,130,130)"/><rect x="55.0" y="549.5" width="14.1" height="14.1" fill="rgb(110,110,110)"/><rect x="68.1" y="549.5" width="14.1" height="14.1" fill="rgb(120,120,120)"/><rect x="81.2" y="549.5" width="14.1" height="14.1" fill="rgb(100,100,100)"/><rect x="94.4" y="549.5" width="14.1" height="14.1" fill="rgb(79,79,79)"/><rect x="107.5" y="549.5" width="14.1" height="14.1" fill="rgb(110,110,110)"/><rect x="120.6" y="549.5" width="14.1" height="14.1" fill="rgb(130,130,130)"/><rect x="133.8" y="549.5" width="14.1" height="14.1" fill="rgb(100,100,100)"/><rect x="146.9" y="549.5" width="14.1" height="14.1" fill="rgb(110,110,110)"/><rect x="160.0" y="549.5" width="14.1" height="14.1" fill="rgb(110,110,110)"/><rect x="173.1" y="549.5" width="14.1" height="14.1" fill="rgb(120,120,120)"/><rect x="186.2" y="549.5" width="14.1" height="14.1" fill="rgb(100,100,100)"/><rect x="199.4" y="549.5" width="14.1" height="14.1" fill="rgb(89,89,89)"/><rect x="212.5" y="549.5" width="14.1" height="14.1" fill="rgb(120,120,120)"/><rect x="225.6" y="549.5" width="14.1" height="14.1" fill="rgb(100,100,100)"/><rect x="238.8" y="549.5" width="14.1" height="14.1" fill="rgb(130,130,130)"/><rect x="251.9" y="549.5" width="14.1" height="14.1" fill="rgb(130,130,130)"/><rect x="265.0" y="549.5" width="14.1" height="14.1" fill="rgb(120,120,120)"/><rect x="278.1" y="549.5" width="14.1" height="14.1" fill="rgb(120,120,120)"/><rect x="291.2" y="549.5" width="14.1" height="14.1" fill="rgb(120,120,120)"/><rect x="304.4" y="549.5" width="14.1" height="14.1" fill="rgb(120,120,120)"/><rect x="2.5" y="562.6" width="14.1" height="14.1" fill="rgb(89,89,89)"/><rect x="15.6" y="562.6" width="14.1" height="14.1" fill="rgb(110,110,110)"/><rect x="28.8" y="562.6" width="14.1" height="14.1" fill="rgb(100,100,100)"/><rect x="41.9" y="562.6" width="14.1" height="14.1" fill="rgb(110,110,110)"/><rect x="55.0" y="562.6" width="14.1" height="14.1" fill="rgb(100,100,100)"/><rect x="68.1" y="562.6" width="14.1" height="14.1" fill="rgb(100,100,100)"/><rect x="81.2" y="562.6" width="14.1" height="14.1" fill="rgb(110,110,110)"/><rect x="94.4" y="562.6" width="14.1" height="14.1" fill="rgb(120,120,120)"/><rect x="107.5" y="562.6" width="14.1" height="14.1" fill="rgb(100,100,100)"/><rect x="120.6" y="562.6" width="14.1" height="14.1" fill="rgb(79,79,79)"/><rect x="133.8" y="562.6" width="14.1" height="14.1" fill="rgb(59,59,59)"/><rect x="146.9" y="562.6" width="14.1" height="14.1" fill="rgb(110,110,110)"/><rect x="160.0" y="562.6" width="14.1" height="14.1" fill="rgb(69,69,69)"/><rect x="173.1" y="562.6" width="14.1" height="14.1" fill="rgb(110,110,110)"/><rect x="186.2" y="562.6" width="14.1" height="14.1" fill="rgb(120,120,120)"/><rect x="199.4" y="562.6" width="14.1" height="14.1" fill="rgb(89,89,89)"/><rect x="212.5" y="562.6" width="14.1" height="14.1" fill="rgb(110,110,110)"/><rect x="225.6" y="562.6" width="14.1" height="14.1" fill="rgb(120,120,120)"/><rect x="238.8" y="562.6" width="14.1" height="14.1" fill="rgb(110,110,110)"/><rect x="251.9" y="562.6" width="14.1" height="14.1" fill="rgb(79,79,79)"/><rect x="265.0" y="562.6" width="14.1" height="14.1" fill="rgb(120,120,120)"/><rect x="278.1" y="562.6" width="14.1" height="14.1" fill="rgb(120,120,120)"/><rect x="291.2" y="562.6" width="14.1" height="14.1" fill="rgb(120,120,120)"/><rect x="304.4" y="562.6" width="14.1" height="14.1" fill="rgb(120,120,120)"/><rect x="2.5" y="575.8" width="14.1" height="14.1" fill="rgb(100,100,100)"/><rect x="15.6" y="575.8" width="14.1" height="14.1" fill="rgb(79,79,79)"/><rect x="28.8" y="575.8" width="14.1" height="14.1" fill="rgb(89,89,89)"/><rect x="41.9" y="575.8" width="14.1" height="14.1" fill="rgb(100,100,100)"/><rect x="55.0" y="575.8" width="14.1" height="14.1" fill="rgb(100,100,100)"/><rect x="68.1" y="575.8" width="14.1" height="14.1" fill="rgb(110,110,110)"/><rect x="81.2" y="575.8" width="14.1" height="14.1" fill="rgb(120,120,120)"/><rect x="94.4" y="575.8" width="14.1" height="14.1" fill="rgb(110,110,110)"/><rect x="107.5" y="575.8" width="14.1" height="14.1" fill="rgb(110,110,110)"/><rect x="120.6" y="575.8" width="14.1" height="14.1" fill="rgb(100,100,100)"/><rect x="133.8" y="575.8" width="14.1" height="14.1" fill="rgb(110,110,110)"/><rect x="146.9" y="575.8" width="14.1" height="14.1" fill="rgb(120,120,120)"/><rect x="160.0" y="575.8" width="14.1" height="14.1" fill="rgb(100,100,100)"/><rect x="173.1" y="575.8" width="14.1" height="14.1" fill="rgb(120,120,120)"/><rect x="186.2" y="575.8" width="14.1" height="14.1" fill="rgb(141,141,141)"/><rect x="199.4" y="575.8" width="14.1" height="14.1" fill="rgb(130,130,130)"/><rect x="212.5" y="575.8" width="14.1" height="14.1" fill="rgb(130,130,130)"/><rect x="225.6" y="575.8" width="14.1" height="14.1" fill="rgb(100,100,100)"/><rect x="238.8" y="575.8" width="14.1" height="14.1" fill="rgb(48,48,48)"/><rect x="251.9" y="575.8" width="14.1" height="14.1" fill="rgb(18,18,18)"/><rect x="265.0" y="575.8" width="14.1" height="14.1" fill="rgb(89,89,89)"/><rect x="278.1" y="575.8" width="14.1" height="14.1" fill="rgb(141,141,141)"/><rect x="291.2" y="575.8" width="14.1" height="14.1" fill="rgb(130,130,130)"/><rect x="304.4" y="575.8" width="14.1" height="14.1" fill="rgb(100,100,100)"/><rect x="2.5" y="588.9" width="14.1" height="14.1" fill="rgb(110,110,110)"/><rect x="15.6" y="588.9" width="14.1" height="14.1" fill="rgb(89,89,89)"/><rect x="28.8" y="588.9" width="14.1" height="14.1" fill="rgb(79,79,79)"/><rect x="41.9" y="588.9" width="14.1" height="14.1" fill="rgb(79,79,79)"/><rect x="55.0" y="588.9" width="14.1" height="14.1" fill="rgb(100,100,100)"/><rect x="68.1" y="588.9" width="14.1" height="14.1" fill="rgb(110,110,110)"/><rect x="81.2" y="588.9" width="14.1" height="14.1" fill="rgb(110,110,110)"/><rect x="94.4" y="588.9" width="14.1" height="14.1" fill="rgb(100,100,100)"/><rect x="107.5" y="588.9" width="14.1" height="14.1" fill="rgb(100,100,100)"/><rect x="120.6" y="588.9" width="14.1" height="14.1" fill="rgb(110,110,110)"/><rect x="133.8" y="588.9" width="14.1" height="14.1" fill="rgb(110,110,110)"/><rect x="146.9" y="588.9" width="14.1" height="14.1" fill="rgb(89,89,89)"/><rect x="160.0" y="588.9" width="14.1" height="14.1" fill="rgb(59,59,59)"/><rect x="173.1" y="588.9" width="14.1" height="14.1" fill="rgb(110,110,110)"/><rect x="186.2" y="588.9" width="14.1" height="14.1" fill="rgb(120,120,120)"/><rect x="199.4" y="588.9" width="14.1" height="14.1" fill="rgb(141,141,141)"/><rect x="212.5" y="588.9" width="14.1" height="14.1" fill="rgb(110,110,110)"/><rect x="225.6" y="588.9" width="14.1" height="14.1" fill="rgb(89,89,89)"/><rect x="238.8" y="588.9" width="14.1" height="14.1" fill="rgb(69,69,69)"/><rect x="251.9" y="588.9" width="14.1" height="14.1" fill="rgb(38,38,38)"/><rect x="265.0" y="588.9" width="14.1" height="14.1" fill="rgb(100,100,100)"/><rect x="278.1" y="588.9" width="14.1" height="14.1" fill="rgb(141,141,141)"/><rect x="291.2" y="588.9" width="14.1" height="14.1" fill="rgb(120,120,120)"/><rect x="304.4" y="588.9" width="14.1" height="14.1" fill="rgb(100,100,100)"/><rect x="2.5" y="602.0" width="14.1" height="14.1" fill="rgb(100,100,100)"/><rect x="15.6" y="602.0" width="14.1" height="14.1" fill="rgb(100,100,100)"/><rect x="28.8" y="602.0" width="14.1" height="14.1" fill="rgb(59,59,59)"/><rect x="41.9" y="602.0" width="14.1" height="14.1" fill="rgb(69,69,69)"/><rect x="55.0" y="602.0" width="14.1" height="14.1" fill="rgb(89,89,89)"/><rect x="68.1" y="602.0" width="14.1" height="14.1" fill="rgb(100,100,100)"/><rect x="81.2" y="602.0" width="14.1" height="14.1" fill="rgb(89,89,89)"/><rect x="94.4" y="602.0" width="14.1" height="14.1" fill="rgb(100,100,100)"/><rect x="107.5" y="602.0" width="14.1" height="14.1" fill="rgb(110,110,110)"/><rect x="120.6" y="602.0" width="14.1" height="14.1" fill="rgb(120,120,120)"/><rect x="133.8" y="602.0" width="14.1" height="14.1" fill="rgb(110,110,110)"/><rect x="146.9" y="602.0" width="14.1" height="14.1" fill="rgb(120,120,120)"/><rect x="160.0" y="602.0" width="14.1" height="14.1" fill="rgb(110,110,110)"/><rect x="173.1" y="602.0" width="14.1" height="14.1" fill="rgb(100,100,100)"/><rect x="186.2" y="602.0" width="14.1" height="14.1" fill="rgb(110,110,110)"/><rect x="199.4" y="602.0" width="14.1" height="14.1" fill="rgb(120,120,120)"/><rect x="212.5" y="602.0" width="14.1" height="14.1" fill="rgb(130,130,130)"/><rect x="225.6" y="602.0" width="14.1" height="14.1" fill="rgb(110,110,110)"/><rect x="238.8" y="602.0" width="14.1" height="14.1" fill="rgb(100,100,100)"/><rect x="251.9" y="602.0" width="14.1" height="14.1" fill="rgb(28,28,28)"/><rect x="265.0" y="602.0" width="14.1" height="14.1" fill="rgb(110,110,110)"/><rect x="278.1" y="602.0" width="14.1" height="14.1" fill="rgb(130,130,130)"/><rect x="291.2" y="602.0" width="14.1" height="14.1" fill="rgb(130,130,130)"/><rect x="304.4" y="602.0" width="14.1" height="14.1" fill="rgb(120,120,120)"/><rect x="2.5" y="615.1" width="14.1" height="14.1" fill="rgb(89,89,89)"/><rect x="15.6" y="615.1" width="14.1" height="14.1" fill="rgb(79,79,79)"/><rect x="28.8" y="615.1" width="14.1" height="14.1" fill="rgb(69,69,69)"/><rect x="41.9" y="615.1" width="14.1" height="14.1" fill="rgb(79,79,79)"/><rect x="55.0" y="615.1" width="14.1" height="14.1" fill="rgb(89,89,89)"/><rect x="68.1" y="615.1" width="14.1" height="14.1" fill="rgb(89,89,89)"/><rect x="81.2" y="615.1" width="14.1" height="14.1" fill="rgb(79,79,79)"/><rect x="94.4" y="615.1" width="14.1" height="14.1" fill="rgb(89,89,89)"/><rect x="107.5" y="615.1" width="14.1" height="14.1" fill="rgb(100,100,100)"/><rect x="120.6" y="615.1" width="14.1" height="14.1" fill="rgb(110,110,110)"/><rect x="133.8" y="615.1" width="14.1" height="14.1" fill="rgb(120,120,120)"/><rect x="146.9" y="615.1" width="14.1" height="14.1" fill="rgb(110,110,110)"/><rect x="160.0" y="615.1" width="14.1" height="14.1" fill="rgb(89,89,89)"/><rect x="173.1" y="615.1" width="14.1" height="14.1" fill="rgb(100,100,100)"/><rect x="186.2" y="615.1" width="14.1" height="14.1" fill="rgb(110,110,110)"/><rect x="199.4" y="615.1" width="14.1" height="14.1" fill="rgb(120,120,120)"/><rect x="212.5" y="615.1" width="14.1" height="14.1" fill="rgb(141,141,141)"/><rect x="225.6" y="615.1" width="14.1" height="14.1" fill="rgb(130,130,130)"/><rect x="238.8" y="615.1" width="14.1" height="14.1" fill="rgb(130,130,130)"/><rect x="251.9" y="615.1" width="14.1" height="14.1" fill="rgb(110,110,110)"/><rect x="265.0" y="615.1" width="14.1" height="14.1" fill="rgb(120,120,120)"/><rect x="278.1" y="615.1" width="14.1" height="14.1" fill="rgb(110,110,110)"/><rect x="291.2" y="615.1" width="14.1" height="14.1" fill="rgb(100,100,100)"/><rect x="304.4" y="615.1" width="14.1" height="14.1" fill="rgb(110,110,110)"/><rect x="2.5" y="628.2" width="14.1" height="14.1" fill="rgb(79,79,79)"/><rect x="15.6" y="628.2" width="14.1" height="14.1" fill="rgb(89,89,89)"/><rect x="28.8" y="628.2" width="14.1" height="14.1" fill="rgb(79,79,79)"/><rect x="41.9" y="628.2" width="14.1" height="14.1" fill="rgb(89,89,89)"/><rect x="55.0" y="628.2" width="14.1" height="14.1" fill="rgb(79,79,79)"/><rect x="68.1" y="628.2" width="14.1" height="14.1" fill="rgb(89,89,89)"/><rect x="81.2" y="628.2" width="14.1" height="14.1" fill="rgb(69,69,69)"/><rect x="94.4" y="628.2" width="14.1" height="14.1" fill="rgb(79,79,79)"/><rect x="107.5" y="628.2" width="14.1" height="14.1" fill="rgb(48,48,48)"/><rect x="120.6" y="628.2" width="14.1" height="14.1" fill="rgb(89,89,89)"/><rect x="133.8" y="628.2" width="14.1" height="14.1" fill="rgb(100,100,100)"/><rect x="146.9" y="628.2" width="14.1" height="14.1" fill="rgb(110,110,110)"/><rect x="160.0" y="628.2" width="14.1" height="14.1" fill="rgb(110,110,110)"/><rect x="173.1" y="628.2" width="14.1" height="14.1" fill="rgb(100,100,100)"/><rect x="186.2" y="628.2" width="14.1" height="14.1" fill="rgb(100,100,100)"/><rect x="199.4" y="628.2" width="14.1" height="14.1" fill="rgb(110,110,110)"/><rect x="212.5" y="628.2" width="14.1" height="14.1" fill="rgb(120,120,120)"/><rect x="225.6" y="628.2" width="14.1" height="14.1" fill="rgb(130,130,130)"/><rect x="238.8" y="628.2" width="14.1" height="14.1" fill="rgb(141,141,141)"/><rect x="251.9" y="628.2" width="14.1" height="14.1" fill="rgb(130,130,130)"/><rect x="265.0" y="628.2" width="14.1" height="14.1" fill="rgb(120,120,120)"/><rect x="278.1" y="628.2" width="14.1" height="14.1" fill="rgb(120,120,120)"/><rect x="291.2" y="628.2" width="14.1" height="14.1" fill="rgb(69,69,69)"/><rect x="304.4" y="628.2" width="14.1" height="14.1" fill="rgb(100,100,100)"/><rect x="2.5" y="641.4" width="14.1" height="14.1" fill="rgb(79,79,79)"/><rect x="15.6" y="641.4" width="14.1" height="14.1" fill="rgb(69,69,69)"/><rect x="28.8" y="641.4" width="14.1" height="14.1" fill="rgb(79,79,79)"/><rect x="41.9" y="641.4" width="14.1" height="14.1" fill="rgb(100,100,100)"/><rect x="55.0" y="641.4" width="14.1" height="14.1" fill="rgb(89,89,89)"/><rect x="68.1" y="641.4" width="14.1" height="14.1" fill="rgb(79,79,79)"/><rect x="81.2" y="641.4" width="14.1" height="14.1" fill="rgb(69,69,69)"/><rect x="94.4" y="641.4" width="14.1" height="14.1" fill="rgb(89,89,89)"/><rect x="107.5" y="641.4" width="14.1" height="14.1" fill="rgb(79,79,79)"/><rect x="120.6" y="641.4" width="14.1" height="14.1" fill="rgb(89,89,89)"/><rect x="133.8" y="641.4" width="14.1" height="14.1" fill="rgb(89,89,89)"/><rect x="146.9" y="641.4" width="14.1" height="14.1" fill="rgb(100,100,100)"/><rect x="160.0" y="641.4" width="14.1" height="14.1" fill="rgb(100,100,100)"/><rect x="173.1" y="641.4" width="14.1" height="14.1" fill="rgb(100,100,100)"/><rect x="186.2" y="641.4" width="14.1" height="14.1" fill="rgb(100,100,100)"/><rect x="199.4" y="641.4" width="14.1" height="14.1" fill="rgb(100,100,100)"/><rect x="212.5" y="641.4" width="14.1" height="14.1" fill="rgb(120,120,120)"/><rect x="225.6" y="641.4" width="14.1" height="14.1" fill="rgb(120,120,120)"/><rect x="238.8" y="641.4" width="14.1" height="14.1" fill="rgb(130,130,130)"/><rect x="251.9" y="641.4" width="14.1" height="14.1" fill="rgb(120,120,120)"/><rect x="265.0" y="641.4" width="14.1" height="14.1" fill="rgb(110,110,110)"/><rect x="278.1" y="641.4" width="14.1" height="14.1" fill="rgb(110,110,110)"/><rect x="291.2" y="641.4" width="14.1" height="14.1" fill="rgb(110,110,110)"/><rect x="304.4" y="641.4" width="14.1" height="14.1" fill="rgb(120,120,120)"/></g>
<rect x="3" y="340" width="315.5" height="314.5" fill="url(#hatch)" opacity="0.12"/>
<rect x="139" y="340" width="18" height="3" fill="#eee" opacity="0.8"/>
<rect x="75" y="451.4" width="113" height="1" fill="#fff" opacity="0.14"/><rect x="263" y="451.0" width="60" height="1" fill="#fff" opacity="0.07"/><rect x="238" y="375.4" width="171" height="1" fill="#fff" opacity="0.08"/><rect x="225" y="471.0" width="187" height="1" fill="#000" opacity="0.12"/><rect x="99" y="386.1" width="75" height="1" fill="#fff" opacity="0.12"/><rect x="44" y="403.6" width="181" height="1" fill="#fff" opacity="0.14"/><rect x="300" y="620.3" width="109" height="1" fill="#000" opacity="0.12"/><rect x="310" y="539.3" width="164" height="1" fill="#fff" opacity="0.15"/><rect x="173" y="492.2" width="171" height="1" fill="#fff" opacity="0.14"/><rect x="133" y="548.2" width="134" height="1" fill="#fff" opacity="0.08"/><rect x="-33" y="506.5" width="130" height="1" fill="#000" opacity="0.10"/><rect x="304" y="518.0" width="201" height="1" fill="#fff" opacity="0.14"/><rect x="-29" y="536.0" width="105" height="1" fill="#fff" opacity="0.07"/><rect x="293" y="509.5" width="98" height="1" fill="#000" opacity="0.13"/><rect x="267" y="382.3" width="148" height="1" fill="#000" opacity="0.13"/><rect x="79" y="572.6" width="185" height="1" fill="#000" opacity="0.15"/><rect x="230" y="477.4" width="127" height="1" fill="#fff" opacity="0.06"/><rect x="26" y="364.5" width="69" height="1" fill="#fff" opacity="0.13"/><rect x="107" y="509.0" width="157" height="1" fill="#fff" opacity="0.11"/><rect x="100" y="578.1" width="73" height="1" fill="#000" opacity="0.13"/><rect x="89" y="455.4" width="135" height="1" fill="#000" opacity="0.08"/><rect x="29" y="340.8" width="181" height="1" fill="#fff" opacity="0.11"/><rect x="29" y="401.4" width="71" height="1" fill="#fff" opacity="0.08"/><rect x="-7" y="348.6" width="70" height="1" fill="#fff" opacity="0.07"/><rect x="117" y="347.1" width="113" height="1" fill="#000" opacity="0.07"/><rect x="98" y="466.8" width="45" height="1" fill="#000" opacity="0.08"/><rect x="126" y="369.6" width="70" height="1" fill="#000" opacity="0.09"/><rect x="-28" y="379.0" width="171" height="1" fill="#fff" opacity="0.14"/><rect x="294" y="486.4" width="94" height="1" fill="#fff" opacity="0.09"/><rect x="183" y="596.2" width="102" height="1" fill="#fff" opacity="0.13"/><rect x="169" y="644.8" width="41" height="1" fill="#fff" opacity="0.07"/><rect x="-34" y="393.6" width="50" height="1" fill="#000" opacity="0.15"/><rect x="309" y="403.1" width="126" height="1" fill="#000" opacity="0.15"/><rect x="-34" y="635.7" width="95" height="1" fill="#000" opacity="0.15"/><rect x="60" y="367.6" width="193" height="1" fill="#fff" opacity="0.10"/><rect x="202" y="445.1" width="207" height="1" fill="#fff" opacity="0.13"/><rect x="258" y="570.8" width="140" height="1" fill="#000" opacity="0.10"/><rect x="37" y="470.4" width="180" height="1" fill="#fff" opacity="0.09"/><rect x="216" y="393.4" width="149" height="1" fill="#000" opacity="0.10"/><rect x="9" y="493.2" width="168" height="1" fill="#fff" opacity="0.11"/><rect x="201" y="578.5" width="57" height="1" fill="#fff" opacity="0.14"/><rect x="274" y="542.0" width="197" height="1" fill="#fff" opacity="0.15"/><rect x="75" y="570.5" width="107" height="1" fill="#fff" opacity="0.10"/><rect x="-9" y="640.6" width="142" height="1" fill="#fff" opacity="0.07"/><rect x="41" y="544.2" width="49" height="1" fill="#fff" opacity="0.12"/><rect x="-43" y="524.2" width="81" height="1" fill="#000" opacity="0.08"/><rect x="106" y="516.9" width="181" height="1" fill="#000" opacity="0.14"/><rect x="22" y="508.3" width="72" height="1" fill="#fff" opacity="0.14"/><rect x="-38" y="375.4" width="214" height="1" fill="#fff" opacity="0.15"/><rect x="123" y="367.0" width="80" height="1" fill="#000" opacity="0.12"/><rect x="231" y="541.8" width="197" height="1" fill="#fff" opacity="0.12"/><rect x="-6" y="480.1" width="190" height="1" fill="#000" opacity="0.14"/><rect x="150" y="404.8" width="124" height="1" fill="#000" opacity="0.07"/><rect x="130" y="448.9" width="53" height="1" fill="#000" opacity="0.13"/><rect x="190" y="473.0" width="149" height="1" fill="#fff" opacity="0.10"/><rect x="76" y="653.2" width="118" height="1" fill="#fff" opacity="0.08"/><rect x="293" y="392.0" width="171" height="1" fill="#000" opacity="0.16"/><rect x="293" y="532.5" width="136" height="1" fill="#fff" opacity="0.15"/><rect x="300" y="624.0" width="127" height="1" fill="#000" opacity="0.10"/><rect x="289" y="653.7" width="93" height="1" fill="#000" opacity="0.08"/><rect x="217" y="370.2" width="93" height="1" fill="#fff" opacity="0.12"/><rect x="225" y="352.8" width="90" height="1" fill="#fff" opacity="0.09"/><rect x="226" y="573.4" width="92" height="1" fill="#fff" opacity="0.09"/><rect x="-19" y="469.3" width="68" height="1" fill="#000" opacity="0.13"/><rect x="311" y="647.1" width="198" height="1" fill="#fff" opacity="0.08"/><rect x="122" y="438.1" width="135" height="1" fill="#fff" opacity="0.10"/><rect x="57" y="608.2" width="123" height="1" fill="#000" opacity="0.14"/><rect x="42" y="433.5" width="185" height="1" fill="#fff" opacity="0.07"/><rect x="149" y="507.0" width="70" height="1" fill="#fff" opacity="0.08"/><rect x="123" y="582.2" width="216" height="1" fill="#000" opacity="0.16"/>
</g>
<rect x="2.8" y="339.8" width="316" height="315" fill="none" stroke="#1a1a1a" stroke-width="1.6"/>
<rect x="275.7" y="413.1" width="42.8" height="167.3" fill="#464646"/>
<rect x="289.3" y="440" width="17" height="116.1" fill="url(#cbar)"/>
<text x="296.5" y="433.2" font-size="14" fill="#fff" text-anchor="middle">1.2 Å</text>
<text x="298" y="575.7" font-size="14" fill="#fff" text-anchor="middle">0 Å</text>
<path d="M56,612.6 L24.5,581.1 M56,612.6 L87.1,581.5" stroke="#fff" stroke-width="3.2" fill="none"/>
<path d="M19.8,576.4 L35,583.8 L27.2,591.6 Z" fill="#fff"/>
<path d="M91.8,576.8 L84.4,592 L76.6,584.2 Z" fill="#fff"/>
<text x="8.2" y="577" font-size="14" fill="#fff" font-style="italic">y</text>
<text x="93.5" y="575.6" font-size="14" fill="#fff" font-style="italic">x</text>
<rect x="33.8" y="621.3" width="43.4" height="5.6" fill="#fff"/>
<text x="55.5" y="644.7" font-size="14" fill="#fff" text-anchor="middle">10 nm</text>
<text x="153" y="646.7" font-size="14.5" fill="#fff"><tspan font-style="italic">T</tspan>(<tspan font-style="italic" font-weight="bold">r</tspan>)</text>
<text x="340.5" y="335.6" font-size="17" font-weight="bold">d</text>
<path d="M386.0,611.6 L388.2,611.9 L390.4,611.7 L392.6,612.1 L394.8,611.7 L397.1,611.5 L399.3,611.8 L401.5,611.4 L403.7,611.6 L405.9,611.5 L408.1,612.0 L410.3,611.8 L412.5,611.2 L414.7,611.7 L416.9,611.8 L419.2,611.1 L421.4,612.0 L423.6,611.2 L425.8,610.8 L428.0,611.8 L430.2,611.4 L432.4,612.2 L434.6,612.3 L436.8,611.9 L439.1,611.2 L441.3,612.0 L443.5,611.2 L445.7,611.7 L447.9,612.0 L450.1,612.4 L452.3,611.8 L454.5,612.5 L456.7,611.2 L458.9,611.1 L461.2,611.9 L463.4,612.5 L465.6,611.4 L467.8,611.4 L470.0,611.5 L472.2,611.6 L474.4,611.9 L476.7,612.3 L478.9,612.8 L481.1,612.8 L483.3,612.3 L485.6,612.1 L487.8,612.7 L490.0,611.8 L492.4,612.9 L494.8,611.7 L497.1,613.2 L499.5,613.2 L501.8,613.4 L504.2,612.7 L506.6,613.2 L508.9,613.8 L511.2,612.7 L513.7,613.6 L515.9,612.4 L518.3,612.9 L520.5,612.1 L522.7,611.1 L525.1,611.1 L527.4,610.8 L529.7,611.2 L531.8,610.3 L534.0,609.6 L536.2,609.1 L538.3,608.5 L540.4,607.6 L542.8,608.0 L545.1,608.3 L547.2,607.1 L549.5,607.8 L551.7,608.6 L554.1,608.0 L556.4,608.4 L558.7,608.4 L561.0,608.1 L563.3,608.5 L565.7,609.8 L568.1,609.1 L570.5,608.7 L572.9,608.6 L575.2,609.2 L577.6,609.3 L580.0,609.4 L582.2,609.3 L584.4,609.1 L586.6,609.2 L588.9,609.4 L591.1,609.6 L593.3,609.4 L595.5,609.1 L597.7,608.3 L599.9,608.6 L602.2,608.5 L604.4,609.5 L606.6,609.2 L608.8,609.3 L611.0,609.1 L613.2,609.1 L615.5,609.7 L617.7,609.1 L619.9,609.7 L622.1,609.5 L624.3,609.3 L626.5,609.4 L628.8,609.1 L631.0,609.4 L633.2,609.1 L635.4,609.9 L637.6,609.2 L639.8,609.1 L642.0,609.0 L644.3,609.9 L646.5,609.5 L648.7,609.4 L650.9,609.5 L653.1,609.7 L655.3,608.4 L657.6,610.4 L659.8,609.6 L662.0,608.8 L664.2,609.2 L666.4,609.6 L668.6,609.6 L670.9,609.7 L673.1,609.3 L675.3,609.5 L677.5,609.3" fill="none" stroke="#111" stroke-width="2.8" stroke-linejoin="round" stroke-linecap="round"/><circle cx="388.4" cy="611.2" r="1.44" fill="#111"/><circle cx="393.5" cy="613.7" r="1.89" fill="#111"/><circle cx="396.4" cy="610.8" r="1.64" fill="#111"/><circle cx="406.9" cy="612.0" r="1.78" fill="#111"/><circle cx="441.3" cy="611.0" r="1.83" fill="#111"/><circle cx="445.0" cy="612.6" r="1.48" fill="#111"/><circle cx="449.9" cy="612.4" r="1.89" fill="#111"/><circle cx="463.5" cy="613.5" r="1.80" fill="#111"/><circle cx="485.7" cy="611.5" r="1.47" fill="#111"/><circle cx="494.6" cy="611.2" r="1.56" fill="#111"/><circle cx="527.4" cy="611.2" r="1.46" fill="#111"/><circle cx="540.4" cy="607.3" r="1.89" fill="#111"/><circle cx="581.9" cy="608.4" r="1.79" fill="#111"/><circle cx="587.1" cy="609.5" r="1.89" fill="#111"/><circle cx="595.1" cy="608.1" r="1.62" fill="#111"/><circle cx="612.9" cy="608.6" r="1.59" fill="#111"/><circle cx="630.9" cy="609.5" r="1.71" fill="#111"/><circle cx="635.9" cy="610.3" r="1.54" fill="#111"/><circle cx="640.0" cy="608.0" r="1.67" fill="#111"/><circle cx="670.6" cy="610.0" r="1.64" fill="#111"/>
<path d="M386.0,576.2 L388.2,575.9 L390.4,576.2 L392.6,576.6 L394.9,576.6 L397.1,575.9 L399.3,576.5 L401.5,576.5 L403.7,576.5 L406.0,576.6 L408.2,576.7 L410.4,576.4 L412.6,576.6 L414.8,577.2 L417.1,576.3 L419.3,576.8 L421.5,576.4 L423.7,576.4 L425.9,576.7 L428.1,577.0 L430.3,577.7 L432.6,576.9 L434.8,577.5 L437.0,577.3 L439.2,577.2 L441.5,575.8 L443.7,577.3 L445.9,577.3 L448.1,576.8 L450.3,577.4 L452.5,578.0 L454.7,576.9 L457.0,577.2 L459.2,577.9 L461.4,576.7 L463.6,577.1 L465.8,577.7 L468.0,578.1 L470.3,578.2 L472.5,578.1 L474.7,578.8 L476.9,578.0 L479.1,577.3 L481.3,577.8 L483.6,578.2 L485.8,578.1 L488.0,578.0" fill="none" stroke="#111" stroke-width="2.8" stroke-linejoin="round" stroke-linecap="round"/><circle cx="402.3" cy="576.4" r="1.67" fill="#111"/><circle cx="405.6" cy="577.6" r="1.47" fill="#111"/><circle cx="442.0" cy="576.0" r="1.56" fill="#111"/><circle cx="446.1" cy="577.0" r="1.81" fill="#111"/><circle cx="455.2" cy="576.6" r="1.51" fill="#111"/><circle cx="459.7" cy="578.0" r="1.59" fill="#111"/><circle cx="472.1" cy="578.4" r="1.49" fill="#111"/><circle cx="476.8" cy="578.7" r="1.57" fill="#111"/><circle cx="481.4" cy="578.3" r="1.68" fill="#111"/><circle cx="485.7" cy="577.8" r="1.74" fill="#111"/>
<circle cx="492.0" cy="579.5" r="1.4" fill="#111"/><circle cx="496.9" cy="580.7" r="1.4" fill="#111"/><circle cx="500.5" cy="581.8" r="1.4" fill="#111"/>
<path d="M503.0,582.3 L505.4,582.1 L507.8,582.2 L510.1,582.4 L512.5,582.0 L514.6,582.0 L517.1,581.2 L519.2,579.9 L521.4,578.8 L524.2,578.6 L526.2,576.7 L528.5,575.2 L530.3,573.0 L532.6,571.5 L534.5,570.3 L536.7,569.5 L538.0,567.4 L540.1,566.5 L542.3,565.7 L543.6,564.1 L545.8,563.4 L548.1,563.8 L550.3,563.0 L552.5,562.8" fill="none" stroke="#111" stroke-width="2.8" stroke-linejoin="round" stroke-linecap="round"/><circle cx="505.3" cy="581.7" r="1.77" fill="#111"/><circle cx="513.7" cy="581.8" r="1.64" fill="#111"/><circle cx="544.3" cy="564.6" r="1.68" fill="#111"/><circle cx="548.9" cy="563.1" r="1.67" fill="#111"/>
<circle cx="557.0" cy="563.8" r="1.3" fill="#111"/><circle cx="561.0" cy="565.5" r="1.3" fill="#111"/><circle cx="564.7" cy="567.1" r="1.3" fill="#111"/><circle cx="568.5" cy="568.0" r="1.3" fill="#111"/>
<path d="M573.0,569.0 L575.2,569.9 L577.5,569.0 L579.8,569.1 L582.0,568.8 L584.2,569.9 L586.5,569.3 L588.8,569.3 L591.0,569.0 L593.3,568.9 L595.5,569.6 L597.7,569.6 L600.0,570.3 L602.2,569.2 L604.4,569.4 L606.7,570.0 L608.9,570.0 L611.1,569.3 L613.3,570.3 L615.6,569.8 L617.8,570.0 L620.0,569.8 L622.2,570.0 L624.4,569.4 L626.7,569.5 L628.9,570.1 L631.1,569.8 L633.3,569.8 L635.6,570.1 L637.8,569.7 L640.0,569.6" fill="none" stroke="#111" stroke-width="2.6" stroke-linejoin="round" stroke-linecap="round"/><circle cx="597.9" cy="569.5" r="1.74" fill="#111"/><circle cx="602.7" cy="569.7" r="1.50" fill="#111"/><circle cx="606.5" cy="570.4" r="1.57" fill="#111"/><circle cx="615.5" cy="570.1" r="1.67" fill="#111"/><circle cx="630.3" cy="569.8" r="1.41" fill="#111"/>
<path d="M640.0,569.6 L642.2,568.9 L644.4,569.2 L646.6,570.3 L648.8,569.9 L651.0,570.2 L653.2,569.5 L655.4,570.1 L657.6,569.0 L659.8,570.3 L662.0,569.6" fill="none" stroke="#bdbdbd" stroke-width="2.6" stroke-linejoin="round" stroke-linecap="round"/>
<path d="M662.0,569.6 L664.2,569.6 L666.4,570.1 L668.6,569.2 L670.9,569.3 L673.1,569.8 L675.3,569.6 L677.5,569.5" fill="none" stroke="#111" stroke-width="2.6" stroke-linejoin="round" stroke-linecap="round"/><circle cx="668.7" cy="568.6" r="1.75" fill="#111"/>
<path d="M386.0,540.3 L388.2,540.2 L390.4,539.9 L392.7,540.9 L394.9,540.5 L397.1,540.3 L399.3,539.3 L401.5,540.4 L403.8,540.6 L406.0,541.0 L408.2,540.2 L410.4,539.6 L412.6,540.4 L414.9,540.6 L417.1,540.8 L419.3,540.0 L421.5,539.8 L423.7,540.4 L426.0,540.5 L428.2,539.6 L430.4,539.6 L432.6,540.3 L434.8,540.3 L437.1,541.0 L439.3,540.7 L441.5,539.9 L443.7,540.6 L445.9,540.9 L448.2,540.3 L450.4,540.2 L452.6,541.0 L454.8,540.7 L457.0,540.3 L459.3,540.2 L461.5,540.0 L463.7,540.8 L465.9,540.4 L468.1,539.7 L470.4,541.4 L472.6,541.0 L474.8,540.3" fill="none" stroke="#111" stroke-width="2.8" stroke-linejoin="round" stroke-linecap="round"/><circle cx="406.5" cy="541.1" r="1.80" fill="#111"/><circle cx="411.0" cy="539.6" r="1.45" fill="#111"/><circle cx="415.4" cy="540.1" r="1.70" fill="#111"/><circle cx="419.0" cy="540.1" r="1.57" fill="#111"/><circle cx="423.8" cy="540.1" r="1.78" fill="#111"/><circle cx="450.2" cy="541.1" r="1.65" fill="#111"/><circle cx="455.2" cy="541.3" r="1.71" fill="#111"/><circle cx="463.4" cy="541.1" r="1.58" fill="#111"/><circle cx="472.6" cy="540.4" r="1.52" fill="#111"/>
<circle cx="492.7" cy="548.3" r="1.3" fill="#111"/>
<path d="M548.1,517.0 L546.4,518.9 L544.5,520.6 L543.3,523.0 L541.1,524.5 L539.8,526.7 L537.8,528.1 L536.4,530.1 L534.2,531.1 L533.2,533.6 L530.6,534.0 L529.0,535.8 L527.9,537.8 L525.9,539.2 L525.0,541.4 L523.2,542.9 L521.7,544.6 L519.9,546.3 L517.7,547.8 L516.2,549.8 L514.1,551.2 L513.0,553.5 L510.8,554.6 L508.6,555.6" fill="none" stroke="#111" stroke-width="3.6" stroke-linejoin="round" stroke-linecap="round"/><circle cx="529.2" cy="535.5" r="2.42" fill="#111"/><circle cx="525.4" cy="539.9" r="2.40" fill="#111"/>
<circle cx="563.3" cy="523.3" r="1.3" fill="#111"/><circle cx="566.5" cy="524.5" r="1.3" fill="#111"/><circle cx="570.5" cy="526.6" r="1.3" fill="#111"/>
<path d="M573.5,527.3 L575.9,527.8 L578.3,527.1 L580.7,528.1 L583.0,528.5 L585.4,528.4 L587.8,528.5 L590.3,528.4 L592.6,528.6 L595.0,529.2 L597.4,529.0 L599.6,529.9 L601.9,529.4 L604.1,528.3 L606.4,529.1 L608.6,529.4 L610.9,529.3 L613.1,529.5 L615.3,529.4 L617.6,530.0 L619.8,529.1 L622.1,529.2 L624.3,529.5 L626.5,529.6 L628.8,529.6 L631.0,529.9 L633.3,529.4 L635.5,530.3 L637.8,529.0 L640.0,529.4" fill="none" stroke="#111" stroke-width="2.6" stroke-linejoin="round" stroke-linecap="round"/><circle cx="580.5" cy="528.0" r="1.47" fill="#111"/><circle cx="589.4" cy="528.5" r="1.39" fill="#111"/><circle cx="609.0" cy="529.5" r="1.48" fill="#111"/><circle cx="621.5" cy="528.6" r="1.63" fill="#111"/><circle cx="631.5" cy="530.6" r="1.63" fill="#111"/>
<path d="M640.0,529.4 L642.2,528.9 L644.4,529.9 L646.6,530.0 L648.8,529.6 L651.0,529.3 L653.2,528.5 L655.4,528.8 L657.6,529.2 L659.8,530.3 L662.0,529.4" fill="none" stroke="#bdbdbd" stroke-width="2.6" stroke-linejoin="round" stroke-linecap="round"/><circle cx="651.2" cy="530.2" r="1.50" fill="#bdbdbd"/><circle cx="654.3" cy="529.2" r="1.42" fill="#bdbdbd"/><circle cx="660.2" cy="530.1" r="1.48" fill="#bdbdbd"/>
<path d="M662.0,529.4 L664.2,529.7 L666.4,529.3 L668.6,530.2 L670.9,529.8 L673.1,529.3 L675.3,529.6 L677.5,529.3" fill="none" stroke="#111" stroke-width="2.6" stroke-linejoin="round" stroke-linecap="round"/><circle cx="669.0" cy="529.9" r="1.44" fill="#111"/><circle cx="672.5" cy="529.2" r="1.49" fill="#111"/>
<path d="M386.0,505.2 L388.2,504.8 L390.4,505.2 L392.6,505.7 L394.8,504.3 L397.0,505.2 L399.2,504.4 L401.5,505.5 L403.7,505.3 L405.9,505.3 L408.1,505.5 L410.3,506.2 L412.5,505.0 L414.7,505.7 L416.9,504.9 L419.1,505.6 L421.3,505.5 L423.5,506.1 L425.7,505.5 L427.9,505.2 L430.2,505.6 L432.4,505.5 L434.6,505.1 L436.8,505.5 L439.0,505.0 L441.2,505.1 L443.4,505.2" fill="none" stroke="#111" stroke-width="2.6" stroke-linejoin="round" stroke-linecap="round"/><circle cx="396.8" cy="504.8" r="1.42" fill="#111"/><circle cx="400.9" cy="505.4" r="1.71" fill="#111"/><circle cx="405.8" cy="505.5" r="1.35" fill="#111"/><circle cx="410.7" cy="505.7" r="1.46" fill="#111"/><circle cx="414.6" cy="504.8" r="1.50" fill="#111"/><circle cx="428.0" cy="505.6" r="1.52" fill="#111"/>
<circle cx="482.9" cy="524.0" r="1.3" fill="#111"/>
<path d="M548.8,470.0 L546.9,471.6 L546.7,474.2 L544.9,475.9 L544.0,478.1 L542.8,480.1 L542.0,482.4 L540.5,484.3 L539.6,486.5 L538.0,488.3 L537.4,490.7 L535.4,492.1 L533.8,493.9 L532.0,495.4 L531.1,497.6 L529.9,499.5 L528.8,501.6 L527.2,503.3 L526.5,505.7 L525.0,507.7 L524.5,510.2 L522.6,511.9 L520.7,513.6 L520.4,516.3 L518.3,517.8 L517.0,519.7 L515.7,521.6 L514.0,523.2 L512.7,525.1 L511.6,527.3 L509.3,528.5 L507.7,530.7 L504.8,531.1 L503.2,533.2" fill="none" stroke="#111" stroke-width="3.6" stroke-linejoin="round" stroke-linecap="round"/><circle cx="542.8" cy="480.3" r="1.86" fill="#111"/><circle cx="537.9" cy="488.2" r="1.94" fill="#111"/><circle cx="531.9" cy="494.2" r="1.94" fill="#111"/><circle cx="516.9" cy="519.9" r="2.43" fill="#111"/><circle cx="514.6" cy="523.0" r="2.35" fill="#111"/>
<circle cx="553.2" cy="472.3" r="1.3" fill="#111"/><circle cx="577.8" cy="484.0" r="1.3" fill="#111"/><circle cx="581.0" cy="484.8" r="1.3" fill="#111"/>
<path d="M588.0,485.8 L590.3,485.9 L592.6,486.1 L595.0,486.2 L597.3,486.4 L599.6,485.9 L601.9,487.2 L604.2,486.8 L606.5,487.3 L608.8,487.8 L611.1,488.1 L613.5,487.6 L615.8,487.6 L618.0,488.6 L620.4,488.3 L622.7,488.3 L625.0,488.4 L627.3,489.7 L629.6,489.0 L631.9,488.5 L634.2,489.8 L636.4,489.3 L638.7,488.7 L641.0,488.2 L643.3,487.8 L645.6,489.3 L647.8,488.3 L650.1,488.7 L652.4,488.9 L654.7,488.8 L657.0,488.1 L659.2,488.2 L661.5,489.0 L663.8,488.1 L666.1,487.7 L668.4,488.4 L670.6,487.7 L672.9,487.8 L675.2,487.6 L677.5,488.1" fill="none" stroke="#111" stroke-width="2.6" stroke-linejoin="round" stroke-linecap="round"/><circle cx="599.6" cy="486.0" r="1.70" fill="#111"/><circle cx="603.8" cy="486.3" r="1.63" fill="#111"/><circle cx="608.8" cy="487.7" r="1.56" fill="#111"/><circle cx="618.3" cy="488.7" r="1.75" fill="#111"/><circle cx="632.2" cy="488.1" r="1.61" fill="#111"/><circle cx="635.7" cy="488.8" r="1.32" fill="#111"/><circle cx="645.8" cy="489.1" r="1.57" fill="#111"/><circle cx="664.5" cy="488.7" r="1.47" fill="#111"/><circle cx="673.2" cy="487.9" r="1.37" fill="#111"/>
<path d="M386.0,469.0 L388.3,469.0 L390.6,469.7 L392.9,469.4 L395.2,468.6 L397.5,468.8 L399.7,468.7 L402.0,468.3 L404.3,469.6 L406.6,469.1 L408.9,469.0 L411.2,470.4 L413.5,468.8" fill="none" stroke="#111" stroke-width="2.6" stroke-linejoin="round" stroke-linecap="round"/><circle cx="388.2" cy="469.4" r="1.70" fill="#111"/><circle cx="401.3" cy="468.6" r="1.33" fill="#111"/>
<circle cx="463.5" cy="492.7" r="1.3" fill="#111"/>
<path d="M548.8,429.0 L547.1,430.8 L546.7,433.3 L546.0,435.7 L544.7,437.8 L542.8,439.5 L541.3,441.3 L540.2,443.5 L539.0,445.6 L537.9,447.8 L537.0,450.0 L535.5,451.8 L534.5,454.0 L532.3,455.4 L531.8,458.0 L530.3,459.8 L529.4,462.0 L527.1,463.3 L525.9,465.4 L524.9,467.5 L523.0,469.1 L522.5,471.6 L521.6,473.8 L519.7,475.4 L519.3,478.0 L517.3,479.6 L516.3,481.7 L515.4,483.9 L513.6,485.6 L512.2,487.5 L511.5,489.9 L510.2,491.9 L508.0,493.5 L506.9,495.8 L504.8,497.4 L503.6,499.6 L502.6,502.0 L501.3,504.3 L499.5,506.1 L498.0,508.7 L496.0,508.0" fill="none" stroke="#111" stroke-width="3.6" stroke-linejoin="round" stroke-linecap="round"/><circle cx="535.2" cy="452.3" r="2.44" fill="#111"/><circle cx="526.2" cy="463.1" r="2.29" fill="#111"/><circle cx="517.0" cy="480.2" r="2.05" fill="#111"/><circle cx="503.2" cy="500.6" r="2.29" fill="#111"/><circle cx="501.2" cy="504.6" r="2.33" fill="#111"/>
<circle cx="557.7" cy="432.7" r="1.3" fill="#111"/><circle cx="582.4" cy="444.5" r="1.3" fill="#111"/>
<path d="M586.2,445.4 L588.4,446.2 L590.7,445.7 L592.9,446.3 L595.2,445.3 L597.5,445.7 L599.7,445.4 L602.0,445.7 L604.2,445.5 L606.5,445.5 L608.7,446.4 L611.0,446.2 L613.3,445.3 L615.5,445.9 L617.8,446.1 L620.0,446.0 L622.2,446.6 L624.4,446.5 L626.6,446.8 L628.9,446.0 L631.1,446.3 L633.3,446.5 L635.5,446.5 L637.7,446.6 L639.9,446.4 L642.1,446.8 L644.3,447.6 L646.5,446.5 L648.8,446.2 L651.0,447.1 L653.2,446.6 L655.4,447.4 L657.6,447.5 L659.8,447.8 L662.0,447.2 L664.2,446.4 L666.4,447.9 L668.6,447.6 L670.9,447.8 L673.1,447.3 L675.3,447.1 L677.5,447.3" fill="none" stroke="#111" stroke-width="2.6" stroke-linejoin="round" stroke-linecap="round"/><circle cx="602.0" cy="445.8" r="1.72" fill="#111"/><circle cx="610.6" cy="446.4" r="1.42" fill="#111"/><circle cx="620.0" cy="445.1" r="1.58" fill="#111"/><circle cx="624.2" cy="446.5" r="1.57" fill="#111"/><circle cx="632.3" cy="445.2" r="1.75" fill="#111"/><circle cx="638.5" cy="446.7" r="1.67" fill="#111"/><circle cx="642.5" cy="447.2" r="1.38" fill="#111"/><circle cx="665.0" cy="446.5" r="1.40" fill="#111"/><circle cx="668.1" cy="447.4" r="1.44" fill="#111"/>
<path d="M568.5,352.0 L567.9,354.3 L566.1,355.9 L564.7,357.7 L563.7,359.8 L562.7,361.8 L561.4,363.7 L560.9,366.1 L559.3,367.8 L558.2,369.7 L557.6,371.9 L556.6,373.9 L555.2,375.6 L554.3,377.6 L552.8,379.3 L552.6,381.7 L550.9,383.3 L550.4,385.5 L548.8,387.2 L547.7,389.2 L546.7,391.2 L545.5,393.2 L543.7,394.8 L542.6,396.8 L541.3,398.7 L541.1,401.3 L539.1,402.7 L538.6,405.1 L536.6,406.5 L536.1,409.2 L534.8,411.3 L533.3,413.3 L531.7,415.2 L530.5,417.4 L529.3,419.6 L527.5,421.5 L526.3,423.5 L525.5,425.7 L526.0,428.4 L524.9,430.4 L523.5,432.3 L523.0,434.6 L521.2,436.3 L521.6,439.0 L519.9,440.6 L518.6,442.4 L517.5,444.3 L517.5,446.9 L515.6,448.3 L515.0,450.5 L513.7,452.3 L512.6,454.3 L511.4,456.1 L510.4,458.1" fill="none" stroke="#111" stroke-width="3.4" stroke-linejoin="round" stroke-linecap="round"/><circle cx="565.2" cy="357.8" r="2.29" fill="#111"/><circle cx="562.6" cy="362.2" r="2.28" fill="#111"/><circle cx="555.8" cy="374.0" r="2.24" fill="#111"/><circle cx="552.3" cy="382.1" r="1.74" fill="#111"/><circle cx="550.2" cy="385.9" r="2.13" fill="#111"/><circle cx="533.4" cy="413.6" r="1.82" fill="#111"/><circle cx="528.1" cy="421.0" r="2.08" fill="#111"/><circle cx="525.2" cy="425.6" r="1.83" fill="#111"/>
<path d="M511.4,457.0 L509.6,458.8 L508.9,461.3 L508.3,463.8 L506.3,465.6 L504.8,467.6 L504.4,470.2 L503.0,472.4 L502.0,474.8 L501.0,477.2 L498.8,478.9 L499.0,481.7 L497.3,483.6 L494.5,484.7 L492.0,486.5" fill="none" stroke="#111" stroke-width="3.6" stroke-linejoin="round" stroke-linecap="round"/><circle cx="505.4" cy="468.8" r="2.04" fill="#111"/>
<circle cx="556.7" cy="385.8" r="1.3" fill="#111"/><circle cx="586.2" cy="399.7" r="1.3" fill="#111"/>
<path d="M591.8,402.5 L594.2,401.5 L596.3,402.5 L598.6,402.5 L600.8,403.3 L603.0,403.5 L605.2,404.6 L607.5,403.6 L609.8,404.0 L611.9,404.9 L614.2,404.8 L616.4,405.8 L618.7,405.3 L620.9,405.7 L623.1,406.5 L625.4,406.5 L627.7,406.3 L629.9,406.4 L632.2,405.4 L634.5,406.1 L636.7,405.7 L639.0,406.2 L641.3,406.0 L643.5,405.0 L645.8,405.6 L648.0,405.3 L650.3,406.2 L652.6,405.1 L654.8,405.2 L657.1,405.3 L659.4,405.1 L661.6,404.9 L663.9,404.9 L666.2,405.5 L668.4,405.1 L670.7,404.3 L673.0,404.8 L675.2,404.0 L677.5,404.7" fill="none" stroke="#111" stroke-width="2.6" stroke-linejoin="round" stroke-linecap="round"/><circle cx="599.4" cy="403.7" r="1.49" fill="#111"/><circle cx="603.1" cy="403.8" r="1.38" fill="#111"/><circle cx="644.2" cy="404.5" r="1.57" fill="#111"/><circle cx="656.6" cy="405.0" r="1.32" fill="#111"/><circle cx="660.3" cy="405.1" r="1.68" fill="#111"/><circle cx="670.7" cy="404.2" r="1.70" fill="#111"/><circle cx="675.2" cy="405.0" r="1.36" fill="#111"/>
<path d="M386.0,436.1 L388.3,435.7 L390.6,435.8 L392.9,435.9 L395.2,435.8 L397.5,435.5 L399.9,435.7 L402.2,435.6 L404.5,435.6 L406.8,435.2 L409.1,435.1 L411.4,435.5 L413.7,434.8 L416.0,434.9 L418.3,435.2 L420.5,434.8 L422.8,434.3 L425.1,434.9 L427.4,434.8 L429.6,435.0 L431.9,434.9 L434.2,434.5 L436.5,435.1 L438.7,434.3 L441.0,434.4 L443.6,435.1 L446.3,435.6 L449.0,435.4" fill="none" stroke="#e2302a" stroke-width="2.5" stroke-linejoin="round" stroke-linecap="round"/><circle cx="393.5" cy="436.1" r="1.64" fill="#e2302a"/><circle cx="397.9" cy="434.9" r="1.48" fill="#e2302a"/><circle cx="411.2" cy="435.9" r="1.50" fill="#e2302a"/><circle cx="415.0" cy="435.2" r="1.33" fill="#e2302a"/><circle cx="434.0" cy="434.8" r="1.40" fill="#e2302a"/>
<circle cx="452.5" cy="436.2" r="1.3" fill="#e2302a"/><circle cx="456.0" cy="436.8" r="1.3" fill="#e2302a"/><circle cx="459.5" cy="437.2" r="1.3" fill="#e2302a"/><circle cx="463.0" cy="437.8" r="1.3" fill="#e2302a"/><circle cx="466.5" cy="438.3" r="1.3" fill="#e2302a"/><circle cx="469.5" cy="438.8" r="1.3" fill="#e2302a"/><circle cx="472.0" cy="439.3" r="1.3" fill="#e2302a"/>
<circle cx="490.5" cy="448.0" r="1.4" fill="#e2302a"/>
<path d="M511.4,458.1 L512.5,456.1 L513.6,454.2 L514.5,452.2 L516.0,450.5 L516.5,448.2 L518.6,446.8 L519.0,444.5 L520.2,442.6 L521.1,440.6 L521.4,438.2 L523.6,436.8 L524.0,434.5 L525.3,432.5 L526.0,430.3 L526.3,428.0 L528.4,426.3 L528.4,423.8 L529.7,421.9 L530.1,419.3 L532.1,417.6 L533.7,415.6 L534.1,413.0 L535.5,410.9 L536.7,408.7 L538.2,406.7 L539.8,405.0 L541.5,403.4 L541.8,400.9 L543.2,399.1 L544.8,397.3 L545.4,395.1 L546.5,393.1 L547.6,391.0 L549.3,389.4 L550.6,387.5 L551.5,385.4 L552.1,383.3 L553.7,381.6 L554.3,379.4 L555.7,377.7 L556.4,375.6 L557.4,373.6 L558.7,371.8 L559.9,370.0 L561.1,368.1 L561.5,365.7 L563.2,364.1 L564.0,362.0 L565.3,360.1 L565.7,357.8 L567.9,356.4 L568.6,354.2 L569.5,352.1 L570.2,350.3 L574.0,352.0" fill="none" stroke="#e2302a" stroke-width="4.6" stroke-linejoin="round" stroke-linecap="round"/><circle cx="511.9" cy="456.4" r="2.41" fill="#e2302a"/><circle cx="514.5" cy="451.3" r="2.53" fill="#e2302a"/><circle cx="516.9" cy="448.3" r="2.31" fill="#e2302a"/><circle cx="520.9" cy="440.3" r="2.80" fill="#e2302a"/><circle cx="526.2" cy="427.4" r="2.35" fill="#e2302a"/><circle cx="527.9" cy="423.4" r="2.53" fill="#e2302a"/><circle cx="534.1" cy="416.0" r="2.48" fill="#e2302a"/><circle cx="535.3" cy="411.2" r="3.03" fill="#e2302a"/><circle cx="550.8" cy="387.2" r="2.51" fill="#e2302a"/><circle cx="552.6" cy="383.4" r="2.92" fill="#e2302a"/><circle cx="565.7" cy="360.4" r="2.58" fill="#e2302a"/>
<path d="M524.7,419.5H538.3" stroke="#58b858" stroke-width="1.3"/>
<path d="M524.7,455.4H538.3" stroke="#58b858" stroke-width="1.3"/>
<path d="M524.7,496.5H538.3" stroke="#58b858" stroke-width="1.3"/>
<path d="M524.7,533.2H538.3" stroke="#58b858" stroke-width="1.3"/>
<path d="M524.7,572.7H538.3" stroke="#58b858" stroke-width="1.3"/>
<path d="M526,612 L538,608.5" stroke="#58b858" stroke-width="1.3"/>
<path d="M573,428.4H675.5" stroke="#58b858" stroke-width="1.6" stroke-dasharray="7.2 6.8"/>
<path d="M563.5,428.4 L574.5,423.2 L571.5,428.4 L574.5,433.6Z" fill="#58b858"/>
<path d="M632,392.7H674" stroke="#111" stroke-width="1.6"/>
<path d="M623.5,392.7 L637.5,387.4 L633.5,392.7 L637.5,398Z" fill="#111"/>
<path d="M396.1,401.4H438" stroke="#e2302a" stroke-width="1.6"/>
<path d="M446.9,401.4 L433.5,396.1 L437.2,401.4 L433.5,406.7Z" fill="#e2302a"/>
<text x="396" y="421.5" font-size="14" fill="#e2302a">Backward sweep</text>
<text x="572.6" y="383.8" font-size="14" fill="#111" textLength="96.6">Forward sweep</text>
<path d="M663.4,466V626.5" stroke="#2d55a0" stroke-width="1.4"/>
<path d="M663.4,456 L668.6,469 L663.4,466.5 L658.2,469Z" fill="#2d55a0"/>
<text transform="translate(657.3,590.5) rotate(-90)" font-size="14" fill="#2d55a0">Decreasing <tspan font-style="italic">R</tspan><tspan font-size="10.5" dy="3.5">N</tspan></text>
<text x="387.7" y="451.3" font-size="13.2" fill="#2d55a0" textLength="90.6" lengthAdjust="spacing">(9 mV, 100 pA)</text>
<text x="387.7" y="484.6" font-size="13.2" fill="#2d55a0" textLength="98.6" lengthAdjust="spacing">(10 mV, 100 pA)</text>
<text x="387.7" y="520.6" font-size="13.2" fill="#2d55a0" textLength="98.6" lengthAdjust="spacing">(11 mV, 100 pA)</text>
<text x="387.7" y="555.4" font-size="13.2" fill="#2d55a0" textLength="98.6" lengthAdjust="spacing">(13 mV, 100 pA)</text>
<text x="387.7" y="590.4" font-size="13.2" fill="#2d55a0" textLength="98.6" lengthAdjust="spacing">(15 mV, 100 pA)</text>
<text x="387.7" y="626.2" font-size="13.2" fill="#2d55a0" textLength="98.6" lengthAdjust="spacing">(20 mV, 100 pA)</text>
<rect x="385.8" y="338.5" width="292.2" height="290.9" fill="none" stroke="#222" stroke-width="1.4"/>
<path d="M422.2,629.4v-4.3M422.2,338.5v4.3M458.8,629.4v-4.3M458.8,338.5v4.3M495.3,629.4v-4.3M495.3,338.5v4.3M531.8,629.4v-4.3M531.8,338.5v4.3M568.3,629.4v-4.3M568.3,338.5v4.3M604.8,629.4v-4.3M604.8,338.5v4.3M641.4,629.4v-4.3M641.4,338.5v4.3M385.8,610.6h4.3M678,610.6h-4.3M385.8,572.1h4.3M678,572.1h-4.3M385.8,533.6h4.3M678,533.6h-4.3M385.8,495.1h4.3M678,495.1h-4.3M385.8,456.6h4.3M678,456.6h-4.3M385.8,418.1h4.3M678,418.1h-4.3M385.8,379.6h4.3M678,379.6h-4.3M385.8,341.1h4.3M678,341.1h-4.3" stroke="#222" stroke-width="1.3" fill="none"/>
<text x="384.5" y="644.8" font-size="13.5" text-anchor="middle">−400</text>
<text x="457.6" y="644.8" font-size="13.5" text-anchor="middle">−200</text>
<text x="531.8" y="644.8" font-size="13.5" text-anchor="middle">0</text>
<text x="604.8" y="644.8" font-size="13.5" text-anchor="middle">200</text>
<text x="677.9" y="644.8" font-size="13.5" text-anchor="middle">400</text>
<text x="381.5" y="615.4" font-size="13.5" text-anchor="end">0</text>
<text x="381.5" y="538.4" font-size="13.5" text-anchor="end">40</text>
<text x="381.5" y="461.4" font-size="13.5" text-anchor="end">80</text>
<text x="381.5" y="384.4" font-size="13.5" text-anchor="end">120</text>
<text transform="translate(353.6,497.2) rotate(-90)" font-size="13.8" text-anchor="middle"><tspan font-style="italic">I</tspan> (pA)</text>
<text x="509" y="664.3" font-size="13.4"><tspan font-style="italic">V</tspan><tspan font-size="9.5" dy="5">JJ</tspan><tspan dy="-5"> (μV)</tspan></text>
</svg></div></body></html>
